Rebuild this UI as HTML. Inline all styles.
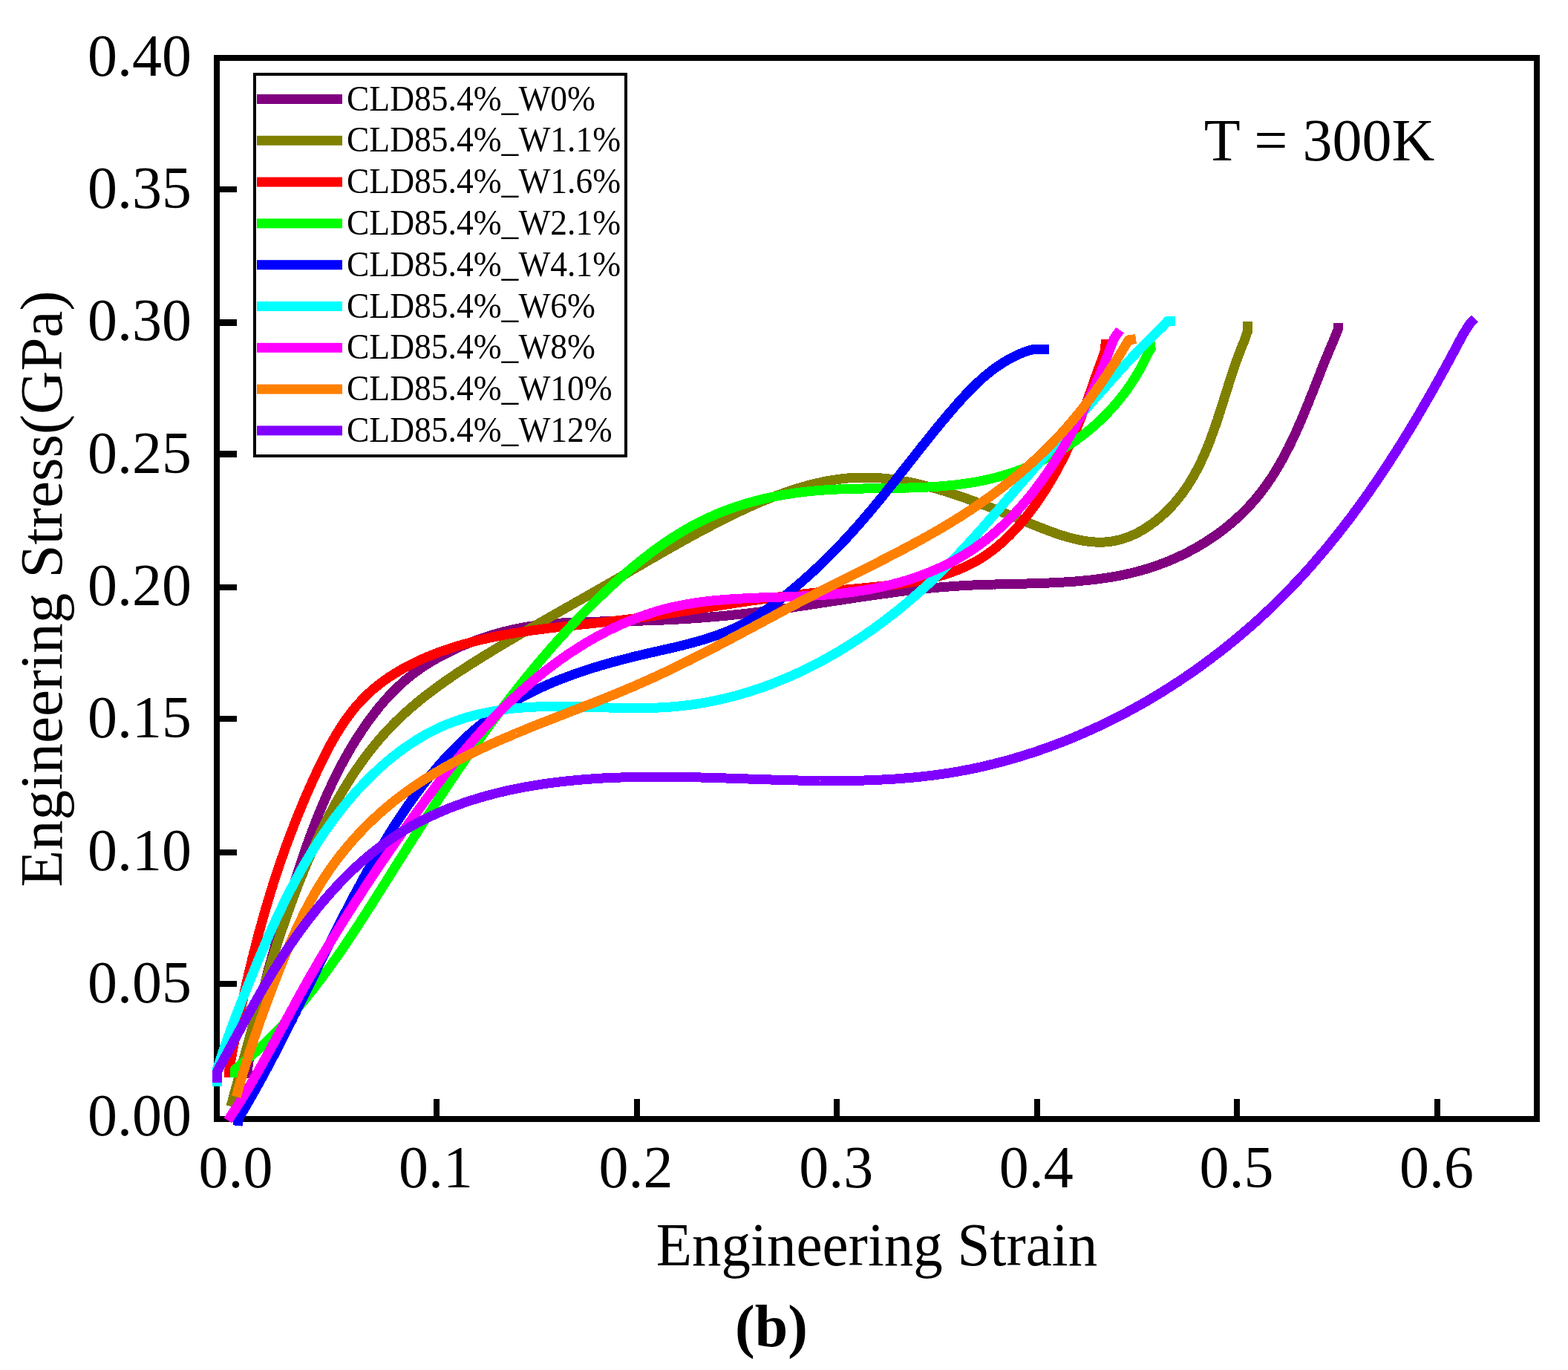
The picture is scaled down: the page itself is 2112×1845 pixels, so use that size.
<!DOCTYPE html>
<html><head><meta charset="utf-8"><style>
html,body{margin:0;padding:0;background:#fff;}
svg{display:block;}
text{font-family:'Liberation Serif','Times New Roman',Times,serif;fill:#000;}
</style></head><body>
<svg width="2112" height="1845" viewBox="0 0 2112 1845">
<rect width="2112" height="1845" fill="#fff"/>
<g font-size="80">
<text x="258" y="1528.5" text-anchor="end">0.00</text>
<text x="258" y="1350.1" text-anchor="end">0.05</text>
<text x="258" y="1171.7" text-anchor="end">0.10</text>
<text x="258" y="993.4" text-anchor="end">0.15</text>
<text x="258" y="815" text-anchor="end">0.20</text>
<text x="258" y="636.6" text-anchor="end">0.25</text>
<text x="258" y="458.2" text-anchor="end">0.30</text>
<text x="258" y="279.8" text-anchor="end">0.35</text>
<text x="258" y="101.5" text-anchor="end">0.40</text>
<text x="317.4" y="1599" text-anchor="middle">0.0</text>
<text x="587" y="1599" text-anchor="middle">0.1</text>
<text x="856.6" y="1599" text-anchor="middle">0.2</text>
<text x="1126.2" y="1599" text-anchor="middle">0.3</text>
<text x="1395.8" y="1599" text-anchor="middle">0.4</text>
<text x="1665.4" y="1599" text-anchor="middle">0.5</text>
<text x="1935" y="1599" text-anchor="middle">0.6</text>
</g>
<rect x="292" y="78" width="1778" height="1429" fill="none" stroke="#000" stroke-width="8"/>
<path d="M296,1325 H319 M296,1148 H319 M296,968 H319 M296,791 H319 M296,255 H319 M588,1503 V1480 M858,1503 V1480 M1127,1503 V1480 M1397,1503 V1480 M1666,1503 V1480 M1936,1503 V1480" stroke="#000" stroke-width="8" fill="none"/>
<path d="M296,611.5 H319 M296,434.5 H319" stroke="#000" stroke-width="9" fill="none"/>
<g fill="none" stroke-width="13" stroke-linecap="butt" stroke-linejoin="round" shape-rendering="crispEdges">
<path d="M332,1452 L332.3,1450 L332.5,1448 L332.8,1446 L333,1444 L333.3,1442 L333.6,1440 L333.9,1438 L334.1,1436 L334.4,1434 L334.7,1432 L335,1430 L335.3,1428 L335.6,1426 L335.9,1424 L336.3,1422 L336.6,1420.1 L336.9,1418.1 L337.2,1416.1 L337.6,1414.1 L337.9,1412.1 L338.2,1410.2 L338.6,1408.2 L338.9,1406.2 L339.3,1404.2 L339.6,1402.3 L340,1400.3 L340.4,1398.3 L340.7,1396.3 L341.1,1394.4 L341.5,1392.4 L341.9,1390.4 L342.2,1388.5 L342.6,1386.5 L343,1384.6 L343.4,1382.6 L343.8,1380.6 L344.2,1378.7 L344.6,1376.7 L345,1374.8 L345.4,1372.8 L345.9,1370.9 L346.3,1368.9 L346.7,1367 L347.1,1365 L347.5,1363.1 L348,1361.1 L348.4,1359.2 L348.9,1357.2 L349.3,1355.3 L349.7,1353.3 L350.2,1351.4 L350.6,1349.5 L351.1,1347.5 L351.6,1345.6 L352,1343.6 L352.5,1341.7 L353,1339.8 L353.4,1337.8 L353.9,1335.9 L354.4,1334 L354.9,1332 L355.3,1330.1 L355.8,1328.1 L356.3,1326.2 L356.8,1324.3 L357.3,1322.4 L357.8,1320.4 L358.3,1318.5 L358.8,1316.6 L359.3,1314.6 L359.8,1312.7 L360.3,1310.8 L360.8,1308.9 L361.3,1306.9 L361.8,1305 L362.4,1303.1 L362.9,1301.2 L363.4,1299.2 L363.9,1297.3 L364.5,1295.4 L365,1293.5 L365.5,1291.5 L366.1,1289.6 L366.6,1287.7 L367.1,1285.8 L367.7,1283.9 L368.2,1281.9 L368.8,1280 L369.3,1278.1 L369.9,1276.2 L370.4,1274.3 L371,1272.3 L371.5,1270.4 L372.1,1268.5 L372.6,1266.6 L373.2,1264.7 L373.8,1262.8 L374.3,1260.8 L374.9,1258.9 L375.5,1257 L376,1255.1 L376.6,1253.2 L377.2,1251.2 L377.7,1249.3 L378.3,1247.4 L378.9,1245.5 L379.5,1243.6 L380,1241.7 L380.6,1239.7 L381.2,1237.8 L381.8,1235.9 L382.4,1234 L383,1232.1 L383.5,1230.2 L384.1,1228.2 L384.7,1226.3 L385.3,1224.4 L385.9,1222.5 L386.5,1220.6 L387.1,1218.7 L387.7,1216.7 L388.3,1214.8 L388.9,1212.9 L389.5,1211 L390.1,1209.1 L390.7,1207.1 L391.3,1205.2 L391.9,1203.3 L392.5,1201.4 L393.1,1199.5 L393.7,1197.6 L394.3,1195.6 L394.9,1193.7 L395.5,1191.8 L396.1,1189.9 L396.7,1188 L397.4,1186 L398,1184.1 L398.6,1182.2 L399.2,1180.3 L399.8,1178.4 L400.5,1176.5 L401.1,1174.5 L401.7,1172.6 L402.4,1170.7 L403,1168.8 L403.6,1166.9 L404.3,1165 L404.9,1163.1 L405.5,1161.2 L406.2,1159.2 L406.8,1157.3 L407.5,1155.4 L408.1,1153.5 L408.8,1151.6 L409.4,1149.7 L410.1,1147.8 L410.8,1145.9 L411.4,1144 L412.1,1142.1 L412.8,1140.2 L413.4,1138.3 L414.1,1136.4 L414.8,1134.5 L415.5,1132.6 L416.2,1130.7 L416.8,1128.8 L417.5,1126.9 L418.2,1125.1 L418.9,1123.2 L419.6,1121.3 L420.3,1119.4 L421,1117.5 L421.8,1115.6 L422.5,1113.8 L423.2,1111.9 L423.9,1110 L424.6,1108.1 L425.4,1106.3 L426.1,1104.4 L426.8,1102.5 L427.6,1100.7 L428.3,1098.8 L429.1,1096.9 L429.8,1095.1 L430.6,1093.2 L431.4,1091.4 L432.1,1089.5 L432.9,1087.6 L433.7,1085.8 L434.4,1084 L435.2,1082.1 L436,1080.3 L436.8,1078.4 L437.6,1076.6 L438.4,1074.8 L439.2,1072.9 L440,1071.1 L440.8,1069.3 L441.7,1067.4 L442.5,1065.6 L443.3,1063.8 L444.1,1062 L445,1060.2 L445.8,1058.4 L446.7,1056.5 L447.5,1054.7 L448.4,1052.9 L449.3,1051.1 L450.1,1049.3 L451,1047.5 L451.9,1045.8 L452.8,1044 L453.7,1042.2 L454.6,1040.4 L455.5,1038.6 L456.4,1036.8 L457.3,1035.1 L458.2,1033.3 L459.1,1031.5 L460.1,1029.8 L461,1028 L461.9,1026.3 L462.9,1024.5 L463.8,1022.8 L464.8,1021 L465.8,1019.3 L466.7,1017.6 L467.7,1015.8 L468.7,1014.1 L469.7,1012.4 L470.7,1010.6 L471.7,1008.9 L472.7,1007.2 L473.7,1005.5 L474.8,1003.8 L475.8,1002.1 L476.8,1000.4 L477.9,998.7 L478.9,997 L480,995.3 L481.1,993.6 L482.1,992 L483.2,990.3 L484.3,988.6 L485.4,987 L486.5,985.3 L487.6,983.6 L488.7,982 L489.8,980.3 L491,978.7 L492.1,977.1 L493.2,975.4 L494.4,973.8 L495.6,972.2 L496.7,970.6 L497.9,968.9 L499.1,967.3 L500.3,965.7 L501.5,964.1 L502.7,962.6 L503.9,961 L505.1,959.4 L506.3,957.8 L507.6,956.3 L508.8,954.7 L510.1,953.2 L511.3,951.6 L512.6,950.1 L513.9,948.6 L515.2,947.1 L516.5,945.5 L517.8,944 L519.1,942.5 L520.4,941.1 L521.8,939.6 L523.1,938.1 L524.5,936.7 L525.8,935.2 L527.2,933.8 L528.6,932.4 L530,930.9 L531.4,929.5 L532.8,928.1 L534.2,926.7 L535.7,925.4 L537.1,924 L538.6,922.6 L540,921.3 L541.5,920 L543,918.6 L544.5,917.3 L546,916 L547.5,914.7 L549,913.5 L550.6,912.2 L552.1,911 L553.7,909.7 L555.2,908.5 L556.8,907.3 L558.4,906.1 L560,904.9 L561.6,903.7 L563.2,902.6 L564.9,901.4 L566.5,900.3 L568.2,899.2 L569.8,898 L571.5,896.9 L573.2,895.9 L574.9,894.8 L576.6,893.7 L578.3,892.7 L580,891.6 L581.7,890.6 L583.4,889.6 L585.2,888.6 L586.9,887.6 L588.6,886.6 L590.4,885.6 L592.2,884.6 L593.9,883.7 L595.7,882.7 L597.5,881.8 L599.3,880.9 L601,880 L602.8,879.1 L604.6,878.2 L606.4,877.3 L608.2,876.4 L610.1,875.5 L611.9,874.7 L613.7,873.8 L615.5,873 L617.3,872.2 L619.2,871.3 L621,870.5 L622.9,869.7 L624.7,868.9 L626.5,868.2 L628.4,867.4 L630.2,866.6 L632.1,865.9 L634,865.1 L635.8,864.4 L637.7,863.7 L639.6,863 L641.4,862.3 L643.3,861.6 L645.2,860.9 L647.1,860.2 L649,859.6 L650.9,858.9 L652.8,858.3 L654.7,857.7 L656.6,857 L658.5,856.4 L660.4,855.8 L662.3,855.2 L664.2,854.7 L666.1,854.1 L668,853.6 L669.9,853 L671.8,852.5 L673.8,851.9 L675.7,851.4 L677.6,850.9 L679.6,850.4 L681.5,850 L683.4,849.5 L685.4,849 L687.3,848.6 L689.2,848.1 L691.2,847.7 L693.1,847.3 L695.1,846.9 L697,846.5 L698.9,846.1 L700.9,845.7 L702.8,845.4 L704.8,845 L706.8,844.7 L708.7,844.3 L710.7,844 L712.6,843.7 L714.6,843.4 L716.5,843.1 L718.5,842.8 L720.5,842.6 L722.4,842.3 L724.4,842 L726.4,841.8 L728.3,841.5 L730.3,841.3 L732.3,841.1 L734.3,840.9 L736.2,840.7 L738.2,840.5 L740.2,840.3 L742.2,840.1 L744.1,839.9 L746.1,839.7 L748.1,839.6 L750.1,839.4 L752.1,839.3 L754.1,839.1 L756,839 L758,838.8 L760,838.7 L762,838.6 L764,838.5 L766,838.4 L768,838.3 L770,838.1 L772,838.1 L774,838 L776,837.9 L778,837.8 L780,837.7 L782,837.6 L784,837.6 L786,837.5 L788,837.4 L790,837.4 L792,837.3 L794,837.3 L796,837.2 L798,837.2 L800,837.1 L802,837.1 L804,837 L806,837 L808,837 L810,836.9 L812,836.9 L814,836.9 L816,836.8 L818,836.8 L820,836.8 L822,836.7 L824,836.7 L826.1,836.7 L828.1,836.7 L830.1,836.6 L832.1,836.6 L834.1,836.6 L836.1,836.5 L838.1,836.5 L840.1,836.5 L842.1,836.5 L844.2,836.4 L846.2,836.4 L848.2,836.4 L850.2,836.3 L852.2,836.3 L854.2,836.3 L856.2,836.2 L858.2,836.2 L860.2,836.1 L862.3,836.1 L864.3,836 L866.3,836 L868.3,835.9 L870.3,835.9 L872.3,835.8 L874.3,835.7 L876.3,835.7 L878.3,835.6 L880.4,835.5 L882.4,835.5 L884.4,835.4 L886.4,835.3 L888.4,835.2 L890.4,835.2 L892.4,835.1 L894.4,835 L896.4,834.9 L898.5,834.8 L900.5,834.7 L902.5,834.6 L904.5,834.5 L906.5,834.4 L908.5,834.3 L910.5,834.2 L912.5,834.1 L914.5,834 L916.5,833.9 L918.5,833.8 L920.5,833.6 L922.6,833.5 L924.6,833.4 L926.6,833.3 L928.6,833.1 L930.6,833 L932.6,832.9 L934.6,832.7 L936.6,832.6 L938.6,832.4 L940.6,832.3 L942.6,832.1 L944.6,832 L946.6,831.8 L948.6,831.7 L950.6,831.5 L952.6,831.4 L954.6,831.2 L956.6,831 L958.6,830.9 L960.6,830.7 L962.6,830.5 L964.6,830.4 L966.6,830.2 L968.6,830 L970.6,829.8 L972.6,829.6 L974.6,829.4 L976.6,829.2 L978.6,829.1 L980.6,828.9 L982.6,828.7 L984.6,828.5 L986.6,828.3 L988.6,828 L990.6,827.8 L992.6,827.6 L994.6,827.4 L996.6,827.2 L998.6,827 L1000.5,826.7 L1002.5,826.5 L1004.5,826.3 L1006.5,826.1 L1008.5,825.8 L1010.5,825.6 L1012.5,825.4 L1014.5,825.1 L1016.5,824.9 L1018.4,824.6 L1020.4,824.4 L1022.4,824.1 L1024.4,823.9 L1026.4,823.6 L1028.4,823.4 L1030.4,823.1 L1032.3,822.8 L1034.3,822.6 L1036.3,822.3 L1038.3,822.1 L1040.3,821.8 L1042.3,821.5 L1044.2,821.2 L1046.2,821 L1048.2,820.7 L1050.2,820.4 L1052.2,820.1 L1054.1,819.9 L1056.1,819.6 L1058.1,819.3 L1060.1,819 L1062.1,818.7 L1064,818.4 L1066,818.2 L1068,817.9 L1070,817.6 L1071.9,817.3 L1073.9,817 L1075.9,816.7 L1077.9,816.4 L1079.8,816.1 L1081.8,815.8 L1083.8,815.5 L1085.8,815.2 L1087.7,814.9 L1089.7,814.6 L1091.7,814.3 L1093.7,814 L1095.7,813.7 L1097.6,813.4 L1099.6,813.1 L1101.6,812.8 L1103.6,812.5 L1105.5,812.2 L1107.5,811.9 L1109.5,811.6 L1111.4,811.3 L1113.4,811 L1115.4,810.7 L1117.4,810.4 L1119.3,810.1 L1121.3,809.8 L1123.3,809.5 L1125.3,809.2 L1127.2,808.9 L1129.2,808.6 L1131.2,808.3 L1133.2,808 L1135.1,807.7 L1137.1,807.4 L1139.1,807.1 L1141.1,806.8 L1143,806.5 L1145,806.2 L1147,805.9 L1149,805.6 L1150.9,805.3 L1152.9,805 L1154.9,804.7 L1156.9,804.4 L1158.8,804.1 L1160.8,803.8 L1162.8,803.6 L1164.8,803.3 L1166.7,803 L1168.7,802.7 L1170.7,802.4 L1172.7,802.1 L1174.7,801.8 L1176.6,801.5 L1178.6,801.3 L1180.6,801 L1182.6,800.7 L1184.6,800.4 L1186.5,800.2 L1188.5,799.9 L1190.5,799.6 L1192.5,799.3 L1194.5,799.1 L1196.4,798.8 L1198.4,798.5 L1200.4,798.3 L1202.4,798 L1204.4,797.8 L1206.3,797.5 L1208.3,797.2 L1210.3,797 L1212.3,796.7 L1214.3,796.5 L1216.3,796.2 L1218.2,796 L1220.2,795.8 L1222.2,795.5 L1224.2,795.3 L1226.2,795 L1228.2,794.8 L1230.2,794.6 L1232.2,794.4 L1234.1,794.1 L1236.1,793.9 L1238.1,793.7 L1240.1,793.5 L1242.1,793.3 L1244.1,793.1 L1246.1,792.8 L1248.1,792.6 L1250.1,792.4 L1252.1,792.2 L1254.1,792 L1256.1,791.9 L1258.1,791.7 L1260.1,791.5 L1262.1,791.3 L1264,791.1 L1266,790.9 L1268,790.8 L1270,790.6 L1272,790.4 L1274,790.3 L1276,790.1 L1278.1,790 L1280.1,789.8 L1282.1,789.7 L1284.1,789.5 L1286.1,789.4 L1288.1,789.2 L1290.1,789.1 L1292.1,789 L1294.1,788.8 L1296.1,788.7 L1298.1,788.6 L1300.1,788.5 L1302.1,788.4 L1304.2,788.3 L1306.2,788.2 L1308.2,788.1 L1310.2,788 L1312.2,787.9 L1314.2,787.8 L1316.2,787.7 L1318.3,787.7 L1320.3,787.6 L1322.3,787.5 L1324.3,787.4 L1326.3,787.4 L1328.4,787.3 L1330.4,787.2 L1332.4,787.2 L1334.4,787.1 L1336.4,787.1 L1338.5,787 L1340.5,787 L1342.5,786.9 L1344.5,786.8 L1346.6,786.8 L1348.6,786.8 L1350.6,786.7 L1352.6,786.7 L1354.6,786.6 L1356.7,786.6 L1358.7,786.5 L1360.7,786.5 L1362.7,786.4 L1364.8,786.4 L1366.8,786.3 L1368.8,786.3 L1370.8,786.3 L1372.9,786.2 L1374.9,786.2 L1376.9,786.1 L1378.9,786.1 L1380.9,786 L1383,786 L1385,785.9 L1387,785.9 L1389,785.8 L1391,785.8 L1393.1,785.7 L1395.1,785.7 L1397.1,785.6 L1399.1,785.5 L1401.1,785.5 L1403.2,785.4 L1405.2,785.3 L1407.2,785.3 L1409.2,785.2 L1411.2,785.1 L1413.2,785 L1415.2,784.9 L1417.3,784.9 L1419.3,784.8 L1421.3,784.7 L1423.3,784.6 L1425.3,784.5 L1427.3,784.4 L1429.3,784.3 L1431.3,784.1 L1433.3,784 L1435.3,783.9 L1437.3,783.8 L1439.3,783.6 L1441.3,783.5 L1443.3,783.4 L1445.3,783.2 L1447.3,783.1 L1449.3,782.9 L1451.3,782.7 L1453.3,782.6 L1455.3,782.4 L1457.3,782.2 L1459.3,782 L1461.3,781.8 L1463.3,781.7 L1465.2,781.4 L1467.2,781.2 L1469.2,781 L1471.2,780.8 L1473.2,780.6 L1475.1,780.3 L1477.1,780.1 L1479.1,779.8 L1481.1,779.6 L1483,779.3 L1485,779 L1487,778.7 L1488.9,778.4 L1490.9,778.1 L1492.9,777.8 L1494.8,777.5 L1496.8,777.2 L1498.7,776.9 L1500.7,776.5 L1502.6,776.2 L1504.6,775.8 L1506.5,775.4 L1508.5,775.1 L1510.4,774.7 L1512.4,774.3 L1514.3,773.9 L1516.2,773.5 L1518.2,773 L1520.1,772.6 L1522,772.1 L1524,771.7 L1525.9,771.2 L1527.8,770.7 L1529.7,770.2 L1531.7,769.7 L1533.6,769.2 L1535.5,768.7 L1537.4,768.2 L1539.3,767.6 L1541.2,767.1 L1543.1,766.5 L1545,765.9 L1546.9,765.3 L1548.8,764.7 L1550.7,764.1 L1552.6,763.5 L1554.5,762.9 L1556.4,762.2 L1558.2,761.6 L1560.1,760.9 L1562,760.2 L1563.9,759.5 L1565.7,758.8 L1567.6,758.1 L1569.4,757.4 L1571.3,756.7 L1573.1,755.9 L1575,755.1 L1576.8,754.4 L1578.7,753.6 L1580.5,752.8 L1582.3,752 L1584.1,751.2 L1586,750.4 L1587.8,749.5 L1589.6,748.7 L1591.4,747.8 L1593.2,747 L1595,746.1 L1596.8,745.2 L1598.5,744.3 L1600.3,743.4 L1602.1,742.5 L1603.8,741.5 L1605.6,740.6 L1607.4,739.6 L1609.1,738.7 L1610.8,737.7 L1612.6,736.7 L1614.3,735.7 L1616,734.7 L1617.7,733.7 L1619.4,732.6 L1621.1,731.6 L1622.8,730.6 L1624.5,729.5 L1626.2,728.4 L1627.9,727.3 L1629.6,726.2 L1631.2,725.1 L1632.9,724 L1634.5,722.9 L1636.1,721.8 L1637.8,720.6 L1639.4,719.5 L1641,718.3 L1642.6,717.1 L1644.2,715.9 L1645.8,714.7 L1647.4,713.5 L1649,712.3 L1650.5,711.1 L1652.1,709.8 L1653.6,708.6 L1655.2,707.3 L1656.7,706.1 L1658.2,704.8 L1659.8,703.5 L1661.3,702.2 L1662.8,700.9 L1664.3,699.6 L1665.7,698.2 L1667.2,696.9 L1668.7,695.5 L1670.1,694.2 L1671.6,692.8 L1673,691.4 L1674.4,690 L1675.8,688.6 L1677.2,687.2 L1678.6,685.8 L1680,684.4 L1681.4,682.9 L1682.7,681.5 L1684.1,680 L1685.4,678.6 L1686.7,677.1 L1688.1,675.6 L1689.4,674.1 L1690.7,672.6 L1692,671 L1693.2,669.5 L1694.5,668 L1695.7,666.4 L1697,664.9 L1698.2,663.3 L1699.4,661.7 L1700.6,660.1 L1701.8,658.5 L1703,656.9 L1704.2,655.3 L1705.4,653.7 L1706.5,652.1 L1707.7,650.4 L1708.8,648.8 L1709.9,647.1 L1711.1,645.5 L1712.2,643.8 L1713.3,642.1 L1714.4,640.4 L1715.4,638.7 L1716.5,637 L1717.6,635.3 L1718.6,633.6 L1719.7,631.9 L1720.7,630.1 L1721.7,628.4 L1722.7,626.7 L1723.7,624.9 L1724.7,623.1 L1725.7,621.4 L1726.7,619.6 L1727.7,617.8 L1728.7,616.1 L1729.6,614.3 L1730.6,612.5 L1731.5,610.7 L1732.5,608.9 L1733.4,607.1 L1734.3,605.3 L1735.3,603.5 L1736.2,601.6 L1737.1,599.8 L1738,598 L1738.9,596.2 L1739.8,594.3 L1740.6,592.5 L1741.5,590.6 L1742.4,588.8 L1743.2,586.9 L1744.1,585.1 L1745,583.2 L1745.8,581.4 L1746.6,579.5 L1747.5,577.6 L1748.3,575.8 L1749.1,573.9 L1750,572 L1750.8,570.2 L1751.6,568.3 L1752.4,566.4 L1753.2,564.5 L1754,562.6 L1754.8,560.7 L1755.6,558.9 L1756.4,557 L1757.2,555.1 L1757.9,553.2 L1758.7,551.3 L1759.5,549.4 L1760.3,547.5 L1761,545.6 L1761.8,543.8 L1762.6,541.9 L1763.3,540 L1764.1,538.1 L1764.8,536.2 L1765.6,534.3 L1766.3,532.4 L1767.1,530.5 L1767.8,528.6 L1768.6,526.8 L1769.3,524.9 L1770.1,523 L1770.8,521.1 L1771.6,519.2 L1772.3,517.3 L1773,515.5 L1773.8,513.6 L1774.5,511.7 L1775.2,509.9 L1776,508 L1776.7,506.1 L1777.4,504.3 L1778.2,502.4 L1778.9,500.5 L1779.6,498.7 L1780.4,496.8 L1781.1,495 L1781.8,493.2 L1782.6,491.3 L1783.3,489.5 L1784,487.6 L1784.8,485.8 L1785.5,484 L1786.2,482.2 L1787,480.4 L1787.7,478.6 L1788.5,476.7 L1789.2,475 L1790,473.2 L1790.7,471.4 L1791.5,469.6 L1792.2,467.8 L1793,466 L1793.7,464.3 L1794.5,462.5 L1795.2,460.8 L1796,459 L1802.5,443 L1802.5,435" stroke="#800080"/>
<path d="M311,1490 L311.5,1488.1 L312.1,1486.1 L312.6,1484.2 L313.1,1482.2 L313.6,1480.3 L314.2,1478.4 L314.7,1476.4 L315.2,1474.5 L315.7,1472.5 L316.3,1470.6 L316.8,1468.7 L317.3,1466.7 L317.8,1464.8 L318.4,1462.8 L318.9,1460.9 L319.4,1459 L319.9,1457 L320.4,1455.1 L321,1453.2 L321.5,1451.2 L322,1449.3 L322.5,1447.4 L323.1,1445.4 L323.6,1443.5 L324.1,1441.5 L324.6,1439.6 L325.1,1437.7 L325.7,1435.7 L326.2,1433.8 L326.7,1431.9 L327.2,1429.9 L327.8,1428 L328.3,1426.1 L328.8,1424.1 L329.3,1422.2 L329.9,1420.3 L330.4,1418.4 L330.9,1416.4 L331.4,1414.5 L331.9,1412.6 L332.5,1410.6 L333,1408.7 L333.5,1406.8 L334.1,1404.8 L334.6,1402.9 L335.1,1401 L335.6,1399.1 L336.2,1397.1 L336.7,1395.2 L337.2,1393.3 L337.8,1391.4 L338.3,1389.4 L338.8,1387.5 L339.4,1385.6 L339.9,1383.7 L340.4,1381.7 L341,1379.8 L341.5,1377.9 L342,1376 L342.6,1374 L343.1,1372.1 L343.7,1370.2 L344.2,1368.3 L344.7,1366.4 L345.3,1364.4 L345.8,1362.5 L346.4,1360.6 L346.9,1358.7 L347.5,1356.8 L348,1354.8 L348.5,1352.9 L349.1,1351 L349.7,1349.1 L350.2,1347.2 L350.8,1345.2 L351.3,1343.3 L351.9,1341.4 L352.4,1339.5 L353,1337.6 L353.5,1335.7 L354.1,1333.8 L354.7,1331.8 L355.2,1329.9 L355.8,1328 L356.4,1326.1 L356.9,1324.2 L357.5,1322.3 L358.1,1320.4 L358.6,1318.5 L359.2,1316.6 L359.8,1314.6 L360.4,1312.7 L360.9,1310.8 L361.5,1308.9 L362.1,1307 L362.7,1305.1 L363.3,1303.2 L363.9,1301.3 L364.4,1299.4 L365,1297.5 L365.6,1295.6 L366.2,1293.7 L366.8,1291.8 L367.4,1289.9 L368,1288 L368.6,1286.1 L369.2,1284.2 L369.8,1282.3 L370.4,1280.4 L371,1278.5 L371.7,1276.6 L372.3,1274.7 L372.9,1272.8 L373.5,1270.9 L374.1,1269 L374.7,1267.1 L375.4,1265.2 L376,1263.3 L376.6,1261.4 L377.3,1259.5 L377.9,1257.6 L378.5,1255.7 L379.2,1253.8 L379.8,1251.9 L380.4,1250 L381.1,1248.2 L381.7,1246.3 L382.4,1244.4 L383,1242.5 L383.7,1240.6 L384.3,1238.7 L385,1236.8 L385.7,1234.9 L386.3,1233 L387,1231.2 L387.7,1229.3 L388.3,1227.4 L389,1225.5 L389.7,1223.6 L390.4,1221.7 L391.1,1219.9 L391.7,1218 L392.4,1216.1 L393.1,1214.2 L393.8,1212.3 L394.5,1210.5 L395.2,1208.6 L395.9,1206.7 L396.6,1204.8 L397.3,1203 L398,1201.1 L398.8,1199.2 L399.5,1197.3 L400.2,1195.5 L400.9,1193.6 L401.6,1191.7 L402.4,1189.8 L403.1,1188 L403.8,1186.1 L404.6,1184.2 L405.3,1182.4 L406.1,1180.5 L406.8,1178.6 L407.6,1176.8 L408.3,1174.9 L409.1,1173 L409.8,1171.2 L410.6,1169.3 L411.4,1167.4 L412.1,1165.6 L412.9,1163.7 L413.7,1161.9 L414.5,1160 L415.3,1158.2 L416.1,1156.3 L416.9,1154.4 L417.7,1152.6 L418.5,1150.7 L419.3,1148.9 L420.1,1147 L420.9,1145.2 L421.7,1143.3 L422.5,1141.5 L423.3,1139.7 L424.2,1137.8 L425,1136 L425.8,1134.1 L426.7,1132.3 L427.5,1130.5 L428.4,1128.7 L429.2,1126.8 L430.1,1125 L430.9,1123.2 L431.8,1121.4 L432.7,1119.5 L433.6,1117.7 L434.4,1115.9 L435.3,1114.1 L436.2,1112.3 L437.1,1110.5 L438,1108.7 L438.9,1106.9 L439.8,1105.1 L440.7,1103.3 L441.6,1101.5 L442.6,1099.7 L443.5,1097.9 L444.4,1096.1 L445.3,1094.3 L446.3,1092.6 L447.2,1090.8 L448.2,1089 L449.1,1087.3 L450.1,1085.5 L451.1,1083.7 L452,1082 L453,1080.2 L454,1078.5 L455,1076.7 L456,1075 L457,1073.2 L458,1071.5 L459,1069.8 L460,1068 L461,1066.3 L462,1064.6 L463,1062.9 L464.1,1061.2 L465.1,1059.5 L466.2,1057.8 L467.2,1056.1 L468.3,1054.4 L469.3,1052.7 L470.4,1051 L471.5,1049.3 L472.5,1047.6 L473.6,1045.9 L474.7,1044.3 L475.8,1042.6 L476.9,1040.9 L478,1039.3 L479.1,1037.6 L480.3,1036 L481.4,1034.4 L482.5,1032.7 L483.7,1031.1 L484.8,1029.5 L486,1027.8 L487.1,1026.2 L488.3,1024.6 L489.4,1023 L490.6,1021.4 L491.8,1019.8 L493,1018.2 L494.2,1016.6 L495.4,1015.1 L496.6,1013.5 L497.8,1011.9 L499,1010.4 L500.3,1008.8 L501.5,1007.3 L502.7,1005.7 L504,1004.2 L505.2,1002.7 L506.5,1001.1 L507.8,999.6 L509.1,998.1 L510.3,996.6 L511.6,995.1 L512.9,993.6 L514.2,992.1 L515.5,990.6 L516.9,989.1 L518.2,987.7 L519.5,986.2 L520.8,984.8 L522.2,983.3 L523.5,981.9 L524.9,980.4 L526.3,979 L527.7,977.6 L529,976.2 L530.4,974.8 L531.8,973.4 L533.2,972 L534.6,970.6 L536.1,969.2 L537.5,967.8 L538.9,966.4 L540.4,965.1 L541.8,963.7 L543.3,962.4 L544.7,961 L546.2,959.7 L547.7,958.4 L549.2,957.1 L550.6,955.7 L552.1,954.4 L553.6,953.1 L555.1,951.8 L556.7,950.5 L558.2,949.2 L559.7,948 L561.2,946.7 L562.8,945.4 L564.3,944.2 L565.9,942.9 L567.4,941.6 L569,940.4 L570.5,939.1 L572.1,937.9 L573.7,936.7 L575.2,935.5 L576.8,934.2 L578.4,933 L580,931.8 L581.6,930.6 L583.2,929.4 L584.8,928.2 L586.4,927 L588.1,925.8 L589.7,924.6 L591.3,923.4 L592.9,922.3 L594.6,921.1 L596.2,919.9 L597.8,918.8 L599.5,917.6 L601.1,916.5 L602.8,915.3 L604.4,914.2 L606.1,913 L607.8,911.9 L609.4,910.7 L611.1,909.6 L612.8,908.5 L614.4,907.4 L616.1,906.2 L617.8,905.1 L619.5,904 L621.2,902.9 L622.9,901.8 L624.6,900.7 L626.3,899.6 L628,898.5 L629.7,897.4 L631.4,896.3 L633.1,895.2 L634.8,894.1 L636.5,893 L638.2,892 L639.9,890.9 L641.6,889.8 L643.3,888.7 L645,887.7 L646.8,886.6 L648.5,885.5 L650.2,884.5 L651.9,883.4 L653.7,882.3 L655.4,881.3 L657.1,880.2 L658.8,879.2 L660.6,878.1 L662.3,877.1 L664,876 L665.8,875 L667.5,873.9 L669.2,872.9 L670.9,871.8 L672.7,870.8 L674.4,869.7 L676.1,868.7 L677.9,867.7 L679.6,866.6 L681.4,865.6 L683.1,864.6 L684.8,863.5 L686.6,862.5 L688.3,861.5 L690,860.4 L691.8,859.4 L693.5,858.4 L695.3,857.4 L697,856.4 L698.7,855.3 L700.5,854.3 L702.2,853.3 L704,852.3 L705.7,851.3 L707.5,850.3 L709.2,849.2 L710.9,848.2 L712.7,847.2 L714.4,846.2 L716.2,845.2 L717.9,844.2 L719.7,843.2 L721.4,842.2 L723.1,841.2 L724.9,840.2 L726.6,839.2 L728.4,838.2 L730.1,837.2 L731.9,836.2 L733.6,835.2 L735.4,834.2 L737.1,833.2 L738.9,832.2 L740.6,831.2 L742.3,830.2 L744.1,829.2 L745.8,828.2 L747.6,827.2 L749.3,826.2 L751.1,825.2 L752.8,824.2 L754.5,823.2 L756.3,822.2 L758,821.2 L759.8,820.2 L761.5,819.2 L763.3,818.3 L765,817.3 L766.7,816.3 L768.5,815.3 L770.2,814.3 L772,813.3 L773.7,812.3 L775.4,811.3 L777.2,810.3 L778.9,809.4 L780.7,808.4 L782.4,807.4 L784.1,806.4 L785.9,805.4 L787.6,804.4 L789.3,803.4 L791.1,802.5 L792.8,801.5 L794.5,800.5 L796.3,799.5 L798,798.5 L799.7,797.5 L801.5,796.5 L803.2,795.5 L804.9,794.6 L806.7,793.6 L808.4,792.6 L810.1,791.6 L811.8,790.6 L813.6,789.6 L815.3,788.6 L817,787.6 L818.7,786.7 L820.5,785.7 L822.2,784.7 L823.9,783.7 L825.6,782.7 L827.3,781.7 L829,780.7 L830.8,779.7 L832.5,778.7 L834.2,777.7 L835.9,776.7 L837.6,775.7 L839.3,774.8 L841,773.8 L842.7,772.8 L844.5,771.8 L846.2,770.8 L847.9,769.8 L849.6,768.8 L851.3,767.8 L853,766.8 L854.7,765.8 L856.4,764.8 L858.1,763.8 L859.8,762.8 L861.5,761.8 L863.3,760.9 L865,759.9 L866.7,758.9 L868.4,757.9 L870.1,756.9 L871.8,755.9 L873.5,754.9 L875.2,753.9 L876.9,752.9 L878.6,751.9 L880.3,750.9 L882.1,750 L883.8,749 L885.5,748 L887.2,747 L888.9,746 L890.6,745 L892.3,744 L894.1,743.1 L895.8,742.1 L897.5,741.1 L899.2,740.1 L900.9,739.1 L902.7,738.2 L904.4,737.2 L906.1,736.2 L907.8,735.2 L909.6,734.3 L911.3,733.3 L913,732.3 L914.8,731.3 L916.5,730.4 L918.2,729.4 L920,728.4 L921.7,727.5 L923.5,726.5 L925.2,725.5 L927,724.6 L928.7,723.6 L930.4,722.7 L932.2,721.7 L934,720.7 L935.7,719.8 L937.5,718.8 L939.2,717.9 L941,716.9 L942.8,716 L944.5,715 L946.3,714.1 L948.1,713.1 L949.8,712.2 L951.6,711.3 L953.4,710.3 L955.2,709.4 L957,708.5 L958.7,707.5 L960.5,706.6 L962.3,705.7 L964.1,704.7 L965.9,703.8 L967.7,702.9 L969.5,702 L971.3,701.1 L973.2,700.1 L975,699.2 L976.8,698.3 L978.6,697.4 L980.4,696.5 L982.3,695.6 L984.1,694.7 L985.9,693.8 L987.8,692.9 L989.6,692 L991.4,691.1 L993.3,690.2 L995.1,689.4 L997,688.5 L998.8,687.6 L1000.7,686.7 L1002.5,685.9 L1004.4,685 L1006.3,684.2 L1008.1,683.3 L1010,682.5 L1011.9,681.6 L1013.8,680.8 L1015.6,680 L1017.5,679.1 L1019.4,678.3 L1021.3,677.5 L1023.2,676.7 L1025,675.9 L1026.9,675.1 L1028.8,674.3 L1030.7,673.5 L1032.6,672.8 L1034.5,672 L1036.4,671.2 L1038.3,670.5 L1040.2,669.7 L1042.1,669 L1044,668.3 L1045.9,667.5 L1047.8,666.8 L1049.8,666.1 L1051.7,665.4 L1053.6,664.7 L1055.5,664 L1057.4,663.3 L1059.3,662.7 L1061.3,662 L1063.2,661.4 L1065.1,660.7 L1067,660.1 L1069,659.4 L1070.9,658.8 L1072.8,658.2 L1074.7,657.6 L1076.7,657 L1078.6,656.5 L1080.5,655.9 L1082.5,655.3 L1084.4,654.8 L1086.3,654.3 L1088.3,653.7 L1090.2,653.2 L1092.2,652.7 L1094.1,652.2 L1096,651.7 L1098,651.3 L1099.9,650.8 L1101.9,650.4 L1103.8,649.9 L1105.8,649.5 L1107.7,649.1 L1109.6,648.7 L1111.6,648.3 L1113.5,647.9 L1115.5,647.6 L1117.4,647.2 L1119.4,646.9 L1121.3,646.6 L1123.3,646.3 L1125.2,646 L1127.2,645.7 L1129.1,645.4 L1131.1,645.2 L1133,644.9 L1134.9,644.7 L1136.9,644.5 L1138.8,644.3 L1140.8,644.1 L1142.7,643.9 L1144.7,643.8 L1146.6,643.6 L1148.6,643.5 L1150.5,643.4 L1152.5,643.3 L1154.4,643.2 L1156.4,643.1 L1158.3,643.1 L1160.2,643 L1162.2,643 L1164.1,643 L1166.1,643 L1168,643 L1170,643.1 L1171.9,643.1 L1173.8,643.2 L1175.8,643.3 L1177.7,643.4 L1179.7,643.5 L1181.6,643.6 L1183.5,643.7 L1185.5,643.8 L1187.4,644 L1189.4,644.2 L1191.3,644.3 L1193.2,644.5 L1195.2,644.7 L1197.1,645 L1199.1,645.2 L1201,645.4 L1202.9,645.7 L1204.9,646 L1206.8,646.2 L1208.7,646.5 L1210.7,646.8 L1212.6,647.1 L1214.5,647.4 L1216.5,647.8 L1218.4,648.1 L1220.3,648.5 L1222.3,648.8 L1224.2,649.2 L1226.1,649.6 L1228.1,650 L1230,650.4 L1231.9,650.8 L1233.9,651.2 L1235.8,651.7 L1237.7,652.1 L1239.7,652.6 L1241.6,653 L1243.5,653.5 L1245.5,654 L1247.4,654.5 L1249.3,655 L1251.2,655.5 L1253.2,656 L1255.1,656.5 L1257,657 L1259,657.6 L1260.9,658.1 L1262.8,658.7 L1264.7,659.2 L1266.7,659.8 L1268.6,660.4 L1270.5,661 L1272.4,661.6 L1274.4,662.2 L1276.3,662.8 L1278.2,663.4 L1280.1,664 L1282.1,664.6 L1284,665.2 L1285.9,665.9 L1287.8,666.5 L1289.8,667.2 L1291.7,667.8 L1293.6,668.5 L1295.5,669.2 L1297.5,669.8 L1299.4,670.5 L1301.3,671.2 L1303.2,671.9 L1305.1,672.6 L1307.1,673.3 L1309,674 L1310.9,674.7 L1312.8,675.4 L1314.7,676.1 L1316.7,676.8 L1318.6,677.5 L1320.5,678.2 L1322.4,679 L1324.3,679.7 L1326.3,680.4 L1328.2,681.2 L1330.1,681.9 L1332,682.7 L1333.9,683.4 L1335.9,684.2 L1337.8,684.9 L1339.7,685.7 L1341.6,686.4 L1343.5,687.2 L1345.4,688 L1347.4,688.7 L1349.3,689.5 L1351.2,690.3 L1353.1,691 L1355,691.8 L1356.9,692.6 L1358.9,693.3 L1360.8,694.1 L1362.7,694.9 L1364.6,695.7 L1366.5,696.4 L1368.4,697.2 L1370.3,698 L1372.3,698.8 L1374.2,699.5 L1376.1,700.3 L1378,701.1 L1379.9,701.9 L1381.8,702.7 L1383.7,703.4 L1385.6,704.2 L1387.6,705 L1389.5,705.8 L1391.4,706.5 L1393.3,707.3 L1395.2,708.1 L1397.1,708.8 L1399,709.6 L1400.9,710.3 L1402.9,711.1 L1404.8,711.8 L1406.7,712.6 L1408.6,713.3 L1410.5,714 L1412.4,714.7 L1414.3,715.4 L1416.2,716.1 L1418.1,716.8 L1420,717.5 L1421.9,718.2 L1423.8,718.8 L1425.7,719.5 L1427.6,720.1 L1429.5,720.7 L1431.4,721.3 L1433.3,721.9 L1435.2,722.5 L1437.1,723 L1439,723.6 L1440.9,724.1 L1442.8,724.6 L1444.7,725.1 L1446.6,725.6 L1448.5,726 L1450.4,726.4 L1452.3,726.9 L1454.2,727.2 L1456.1,727.6 L1457.9,728 L1459.8,728.3 L1461.7,728.6 L1463.6,728.9 L1465.5,729.1 L1467.4,729.3 L1469.2,729.5 L1471.1,729.7 L1473,729.9 L1474.9,730 L1476.7,730.1 L1478.6,730.1 L1480.5,730.2 L1482.3,730.2 L1484.2,730.1 L1486.1,730.1 L1487.9,730 L1489.8,729.9 L1491.7,729.7 L1493.5,729.6 L1495.4,729.3 L1497.2,729.1 L1499.1,728.8 L1500.9,728.5 L1502.8,728.1 L1504.6,727.7 L1506.5,727.3 L1508.3,726.8 L1510.1,726.3 L1512,725.8 L1513.8,725.2 L1515.6,724.6 L1517.5,723.9 L1519.3,723.2 L1521.1,722.5 L1522.9,721.8 L1524.7,721 L1526.5,720.2 L1528.3,719.4 L1530.1,718.5 L1531.9,717.6 L1533.6,716.7 L1535.4,715.7 L1537.1,714.7 L1538.9,713.7 L1540.6,712.7 L1542.3,711.6 L1544,710.5 L1545.7,709.4 L1547.4,708.3 L1549.1,707.1 L1550.8,705.9 L1552.4,704.7 L1554.1,703.5 L1555.7,702.3 L1557.3,701 L1558.9,699.7 L1560.5,698.4 L1562.1,697.1 L1563.7,695.7 L1565.2,694.4 L1566.7,693 L1568.3,691.6 L1569.8,690.2 L1571.2,688.8 L1572.7,687.4 L1574.1,685.9 L1575.6,684.5 L1577,683 L1578.4,681.5 L1579.7,680 L1581.1,678.5 L1582.4,677 L1583.7,675.4 L1585,673.9 L1586.3,672.3 L1587.6,670.8 L1588.8,669.2 L1590.1,667.6 L1591.3,666 L1592.5,664.4 L1593.7,662.8 L1594.8,661.2 L1596,659.5 L1597.1,657.9 L1598.3,656.2 L1599.4,654.6 L1600.5,652.9 L1601.5,651.2 L1602.6,649.5 L1603.6,647.8 L1604.7,646.1 L1605.7,644.4 L1606.7,642.7 L1607.7,640.9 L1608.7,639.2 L1609.7,637.5 L1610.6,635.7 L1611.6,633.9 L1612.5,632.2 L1613.4,630.4 L1614.3,628.6 L1615.2,626.8 L1616.1,625 L1617,623.2 L1617.9,621.4 L1618.7,619.6 L1619.6,617.8 L1620.4,615.9 L1621.2,614.1 L1622,612.2 L1622.8,610.4 L1623.6,608.6 L1624.4,606.7 L1625.2,604.8 L1626,603 L1626.7,601.1 L1627.5,599.2 L1628.2,597.3 L1629,595.5 L1629.7,593.6 L1630.4,591.7 L1631.1,589.8 L1631.8,587.9 L1632.5,586 L1633.2,584.1 L1633.9,582.2 L1634.6,580.3 L1635.3,578.3 L1636,576.4 L1636.6,574.5 L1637.3,572.6 L1638,570.7 L1638.6,568.7 L1639.3,566.8 L1639.9,564.9 L1640.5,563 L1641.2,561 L1641.8,559.1 L1642.4,557.2 L1643.1,555.2 L1643.7,553.3 L1644.3,551.3 L1644.9,549.4 L1645.5,547.5 L1646.2,545.5 L1646.8,543.6 L1647.4,541.7 L1648,539.7 L1648.6,537.8 L1649.2,535.9 L1649.8,533.9 L1650.4,532 L1651,530.1 L1651.6,528.1 L1652.2,526.2 L1652.8,524.3 L1653.5,522.3 L1654.1,520.4 L1654.7,518.5 L1655.3,516.6 L1655.9,514.7 L1656.5,512.7 L1657.1,510.8 L1657.7,508.9 L1658.4,507 L1659,505.1 L1659.6,503.2 L1660.2,501.3 L1660.9,499.4 L1661.5,497.5 L1662.1,495.6 L1662.8,493.8 L1663.4,491.9 L1664.1,490 L1664.7,488.1 L1665.4,486.3 L1666.1,484.4 L1666.7,482.6 L1667.4,480.7 L1668.1,478.9 L1668.8,477 L1669.5,475.2 L1670.2,473.4 L1670.9,471.6 L1671.6,469.7 L1672.3,467.9 L1673,466.1 L1673.8,464.3 L1674.5,462.6 L1675.2,460.8 L1676,459 L1680.5,446 L1680.5,433" stroke="#808000"/>
<path d="M308.5,1451 L308.5,1442 L308.9,1440 L309.2,1438 L309.6,1436.1 L309.9,1434.1 L310.3,1432.1 L310.6,1430.1 L311,1428.1 L311.3,1426.2 L311.7,1424.2 L312.1,1422.2 L312.4,1420.2 L312.8,1418.3 L313.1,1416.3 L313.5,1414.3 L313.9,1412.3 L314.2,1410.4 L314.6,1408.4 L315,1406.4 L315.4,1404.5 L315.7,1402.5 L316.1,1400.5 L316.5,1398.5 L316.9,1396.6 L317.2,1394.6 L317.6,1392.6 L318,1390.7 L318.4,1388.7 L318.8,1386.7 L319.2,1384.8 L319.6,1382.8 L320,1380.9 L320.3,1378.9 L320.7,1376.9 L321.1,1375 L321.5,1373 L321.9,1371 L322.3,1369.1 L322.7,1367.1 L323.1,1365.2 L323.5,1363.2 L324,1361.2 L324.4,1359.3 L324.8,1357.3 L325.2,1355.4 L325.6,1353.4 L326,1351.5 L326.4,1349.5 L326.8,1347.6 L327.3,1345.6 L327.7,1343.6 L328.1,1341.7 L328.5,1339.7 L329,1337.8 L329.4,1335.8 L329.8,1333.9 L330.3,1331.9 L330.7,1330 L331.1,1328.1 L331.6,1326.1 L332,1324.2 L332.5,1322.2 L332.9,1320.3 L333.4,1318.3 L333.8,1316.4 L334.3,1314.4 L334.7,1312.5 L335.2,1310.5 L335.6,1308.6 L336.1,1306.7 L336.5,1304.7 L337,1302.8 L337.5,1300.8 L337.9,1298.9 L338.4,1297 L338.9,1295 L339.3,1293.1 L339.8,1291.2 L340.3,1289.2 L340.8,1287.3 L341.3,1285.4 L341.7,1283.4 L342.2,1281.5 L342.7,1279.6 L343.2,1277.6 L343.7,1275.7 L344.2,1273.8 L344.7,1271.8 L345.2,1269.9 L345.7,1268 L346.2,1266.1 L346.7,1264.1 L347.2,1262.2 L347.7,1260.3 L348.2,1258.4 L348.7,1256.4 L349.3,1254.5 L349.8,1252.6 L350.3,1250.7 L350.8,1248.7 L351.4,1246.8 L351.9,1244.9 L352.4,1243 L353,1241.1 L353.5,1239.1 L354,1237.2 L354.6,1235.3 L355.1,1233.4 L355.7,1231.5 L356.2,1229.6 L356.8,1227.6 L357.3,1225.7 L357.9,1223.8 L358.4,1221.9 L359,1220 L359.6,1218.1 L360.1,1216.2 L360.7,1214.3 L361.3,1212.4 L361.8,1210.4 L362.4,1208.5 L363,1206.6 L363.6,1204.7 L364.2,1202.8 L364.8,1200.9 L365.3,1199 L365.9,1197.1 L366.5,1195.2 L367.1,1193.3 L367.7,1191.4 L368.3,1189.5 L368.9,1187.6 L369.6,1185.7 L370.2,1183.8 L370.8,1181.9 L371.4,1180 L372,1178.1 L372.6,1176.2 L373.3,1174.3 L373.9,1172.4 L374.5,1170.5 L375.2,1168.6 L375.8,1166.7 L376.4,1164.9 L377.1,1163 L377.7,1161.1 L378.4,1159.2 L379,1157.3 L379.7,1155.4 L380.4,1153.5 L381,1151.6 L381.7,1149.7 L382.3,1147.9 L383,1146 L383.7,1144.1 L384.4,1142.2 L385,1140.3 L385.7,1138.4 L386.4,1136.6 L387.1,1134.7 L387.8,1132.8 L388.5,1130.9 L389.2,1129 L389.9,1127.2 L390.6,1125.3 L391.3,1123.4 L392,1121.5 L392.7,1119.7 L393.4,1117.8 L394.2,1115.9 L394.9,1114 L395.6,1112.2 L396.3,1110.3 L397.1,1108.4 L397.8,1106.6 L398.6,1104.7 L399.3,1102.8 L400,1101 L400.8,1099.1 L401.5,1097.2 L402.3,1095.4 L403.1,1093.5 L403.8,1091.6 L404.6,1089.8 L405.4,1087.9 L406.1,1086 L406.9,1084.2 L407.7,1082.3 L408.5,1080.5 L409.3,1078.6 L410,1076.7 L410.8,1074.9 L411.6,1073 L412.4,1071.2 L413.2,1069.3 L414.1,1067.5 L414.9,1065.6 L415.7,1063.8 L416.5,1061.9 L417.3,1060.1 L418.1,1058.2 L419,1056.4 L419.8,1054.5 L420.6,1052.7 L421.5,1050.8 L422.3,1049 L423.2,1047.1 L424,1045.3 L424.9,1043.4 L425.7,1041.6 L426.6,1039.7 L427.5,1037.9 L428.3,1036.1 L429.2,1034.2 L430.1,1032.4 L431,1030.5 L431.9,1028.7 L432.7,1026.9 L433.6,1025 L434.5,1023.2 L435.4,1021.4 L436.4,1019.6 L437.3,1017.7 L438.2,1015.9 L439.1,1014.1 L440.1,1012.3 L441,1010.5 L442,1008.7 L442.9,1006.9 L443.9,1005.1 L444.8,1003.3 L445.8,1001.5 L446.8,999.8 L447.8,998 L448.8,996.2 L449.8,994.5 L450.8,992.7 L451.8,991 L452.8,989.3 L453.9,987.5 L454.9,985.8 L456,984.1 L457,982.4 L458.1,980.7 L459.2,979 L460.3,977.3 L461.4,975.6 L462.5,974 L463.6,972.3 L464.8,970.7 L465.9,969 L467.1,967.4 L468.2,965.8 L469.4,964.2 L470.6,962.6 L471.8,961 L473,959.4 L474.2,957.9 L475.5,956.3 L476.7,954.8 L478,953.3 L479.2,951.7 L480.5,950.2 L481.8,948.8 L483.1,947.3 L484.4,945.8 L485.8,944.4 L487.1,942.9 L488.5,941.5 L489.9,940.1 L491.2,938.7 L492.6,937.3 L494.1,936 L495.5,934.6 L496.9,933.3 L498.4,931.9 L499.8,930.6 L501.3,929.3 L502.8,928.1 L504.3,926.8 L505.8,925.5 L507.4,924.3 L508.9,923.1 L510.4,921.8 L512,920.6 L513.6,919.4 L515.2,918.3 L516.8,917.1 L518.4,915.9 L520,914.8 L521.6,913.7 L523.2,912.5 L524.9,911.4 L526.5,910.4 L528.2,909.3 L529.9,908.2 L531.5,907.1 L533.2,906.1 L534.9,905.1 L536.6,904.1 L538.4,903 L540.1,902 L541.8,901.1 L543.5,900.1 L545.3,899.1 L547.1,898.2 L548.8,897.2 L550.6,896.3 L552.4,895.4 L554.1,894.5 L555.9,893.6 L557.7,892.7 L559.5,891.8 L561.3,891 L563.2,890.1 L565,889.3 L566.8,888.4 L568.6,887.6 L570.5,886.8 L572.3,886 L574.2,885.2 L576,884.4 L577.9,883.7 L579.7,882.9 L581.6,882.1 L583.5,881.4 L585.4,880.7 L587.2,879.9 L589.1,879.2 L591,878.5 L592.9,877.8 L594.8,877.2 L596.7,876.5 L598.6,875.8 L600.5,875.2 L602.4,874.5 L604.3,873.9 L606.2,873.2 L608.1,872.6 L610,872 L611.9,871.4 L613.9,870.8 L615.8,870.2 L617.7,869.6 L619.6,869.1 L621.5,868.5 L623.5,867.9 L625.4,867.4 L627.3,866.9 L629.2,866.3 L631.2,865.8 L633.1,865.3 L635,864.8 L637,864.3 L638.9,863.8 L640.8,863.3 L642.8,862.8 L644.7,862.4 L646.7,861.9 L648.6,861.4 L650.6,861 L652.5,860.5 L654.5,860.1 L656.4,859.7 L658.4,859.2 L660.3,858.8 L662.3,858.4 L664.2,858 L666.2,857.6 L668.1,857.2 L670.1,856.8 L672.1,856.4 L674,856 L676,855.7 L677.9,855.3 L679.9,854.9 L681.9,854.6 L683.8,854.2 L685.8,853.9 L687.8,853.5 L689.8,853.2 L691.7,852.9 L693.7,852.6 L695.7,852.2 L697.7,851.9 L699.6,851.6 L701.6,851.3 L703.6,851 L705.6,850.7 L707.5,850.4 L709.5,850.1 L711.5,849.8 L713.5,849.5 L715.5,849.2 L717.5,848.9 L719.4,848.7 L721.4,848.4 L723.4,848.1 L725.4,847.9 L727.4,847.6 L729.4,847.3 L731.4,847.1 L733.3,846.8 L735.3,846.6 L737.3,846.3 L739.3,846.1 L741.3,845.8 L743.3,845.6 L745.3,845.4 L747.3,845.1 L749.3,844.9 L751.3,844.7 L753.3,844.4 L755.3,844.2 L757.3,844 L759.3,843.7 L761.3,843.5 L763.3,843.3 L765.3,843.1 L767.2,842.8 L769.2,842.6 L771.2,842.4 L773.2,842.2 L775.2,842 L777.2,841.8 L779.2,841.5 L781.2,841.3 L783.2,841.1 L785.2,840.9 L787.2,840.7 L789.2,840.5 L791.2,840.3 L793.2,840 L795.2,839.8 L797.2,839.6 L799.2,839.4 L801.2,839.2 L803.2,839 L805.2,838.7 L807.2,838.5 L809.2,838.3 L811.2,838.1 L813.2,837.9 L815.2,837.7 L817.2,837.4 L819.2,837.2 L821.2,837 L823.2,836.8 L825.2,836.5 L827.2,836.3 L829.2,836.1 L831.2,835.8 L833.2,835.6 L835.2,835.4 L837.2,835.1 L839.2,834.9 L841.2,834.6 L843.2,834.4 L845.2,834.2 L847.2,833.9 L849.2,833.7 L851.2,833.4 L853.2,833.1 L855.2,832.9 L857.1,832.6 L859.1,832.4 L861.1,832.1 L863.1,831.8 L865.1,831.5 L867.1,831.3 L869.1,831 L871.1,830.7 L873.1,830.4 L875.1,830.1 L877,829.9 L879,829.6 L881,829.3 L883,829 L885,828.7 L887,828.4 L889,828.1 L890.9,827.8 L892.9,827.5 L894.9,827.2 L896.9,826.9 L898.9,826.6 L900.9,826.3 L902.8,826 L904.8,825.7 L906.8,825.4 L908.8,825.1 L910.8,824.8 L912.7,824.5 L914.7,824.2 L916.7,823.9 L918.7,823.6 L920.7,823.2 L922.6,822.9 L924.6,822.6 L926.6,822.3 L928.6,822 L930.6,821.7 L932.5,821.4 L934.5,821 L936.5,820.7 L938.5,820.4 L940.4,820.1 L942.4,819.8 L944.4,819.5 L946.4,819.1 L948.3,818.8 L950.3,818.5 L952.3,818.2 L954.3,817.9 L956.2,817.6 L958.2,817.3 L960.2,816.9 L962.1,816.6 L964.1,816.3 L966.1,816 L968.1,815.7 L970,815.4 L972,815.1 L974,814.8 L975.9,814.5 L977.9,814.1 L979.9,813.8 L981.8,813.5 L983.8,813.2 L985.8,812.9 L987.8,812.6 L989.7,812.3 L991.7,812 L993.7,811.7 L995.6,811.4 L997.6,811.1 L999.6,810.8 L1001.5,810.6 L1003.5,810.3 L1005.5,810 L1007.4,809.7 L1009.4,809.4 L1011.4,809.1 L1013.3,808.8 L1015.3,808.6 L1017.3,808.3 L1019.2,808 L1021.2,807.7 L1023.2,807.4 L1025.1,807.2 L1027.1,806.9 L1029.1,806.6 L1031,806.4 L1033,806.1 L1035,805.8 L1036.9,805.6 L1038.9,805.3 L1040.9,805 L1042.8,804.8 L1044.8,804.5 L1046.8,804.3 L1048.7,804 L1050.7,803.8 L1052.7,803.5 L1054.7,803.3 L1056.6,803 L1058.6,802.8 L1060.6,802.5 L1062.5,802.3 L1064.5,802 L1066.5,801.8 L1068.5,801.5 L1070.4,801.3 L1072.4,801.1 L1074.4,800.8 L1076.4,800.6 L1078.4,800.4 L1080.3,800.1 L1082.3,799.9 L1084.3,799.7 L1086.3,799.4 L1088.3,799.2 L1090.3,799 L1092.2,798.8 L1094.2,798.6 L1096.2,798.3 L1098.2,798.1 L1100.2,797.9 L1102.2,797.7 L1104.2,797.5 L1106.2,797.3 L1108.2,797 L1110.2,796.8 L1112.1,796.6 L1114.1,796.4 L1116.1,796.2 L1118.1,796 L1120.1,795.8 L1122.1,795.6 L1124.2,795.4 L1126.2,795.2 L1128.2,795 L1130.2,794.8 L1132.2,794.6 L1134.2,794.4 L1136.2,794.3 L1138.2,794.1 L1140.2,793.9 L1142.3,793.7 L1144.3,793.5 L1146.3,793.3 L1148.3,793.1 L1150.3,793 L1152.4,792.8 L1154.4,792.6 L1156.4,792.4 L1158.4,792.2 L1160.5,792.1 L1162.5,791.9 L1164.5,791.7 L1166.6,791.5 L1168.6,791.3 L1170.6,791.1 L1172.6,790.9 L1174.7,790.7 L1176.7,790.5 L1178.7,790.3 L1180.7,790.1 L1182.8,789.9 L1184.8,789.7 L1186.8,789.5 L1188.8,789.3 L1190.9,789.1 L1192.9,788.9 L1194.9,788.6 L1196.9,788.4 L1198.9,788.2 L1200.9,787.9 L1203,787.7 L1205,787.4 L1207,787.2 L1209,786.9 L1211,786.6 L1213,786.4 L1215,786.1 L1217,785.8 L1219,785.5 L1221,785.2 L1222.9,784.9 L1224.9,784.6 L1226.9,784.2 L1228.9,783.9 L1230.9,783.6 L1232.8,783.2 L1234.8,782.9 L1236.8,782.5 L1238.7,782.1 L1240.7,781.7 L1242.6,781.3 L1244.6,780.9 L1246.5,780.5 L1248.5,780.1 L1250.4,779.6 L1252.3,779.2 L1254.2,778.7 L1256.2,778.3 L1258.1,777.8 L1260,777.3 L1261.9,776.8 L1263.8,776.3 L1265.7,775.7 L1267.6,775.2 L1269.4,774.7 L1271.3,774.1 L1273.2,773.5 L1275.1,772.9 L1276.9,772.3 L1278.8,771.7 L1280.6,771 L1282.4,770.4 L1284.3,769.7 L1286.1,769.1 L1287.9,768.4 L1289.7,767.7 L1291.5,766.9 L1293.3,766.2 L1295.1,765.4 L1296.9,764.7 L1298.7,763.9 L1300.4,763.1 L1302.2,762.3 L1304,761.4 L1305.7,760.6 L1307.4,759.7 L1309.2,758.8 L1310.9,757.9 L1312.6,757 L1314.3,756 L1316,755.1 L1317.7,754.1 L1319.4,753.1 L1321,752.1 L1322.7,751 L1324.3,750 L1326,748.9 L1327.6,747.8 L1329.2,746.7 L1330.8,745.6 L1332.4,744.4 L1334,743.3 L1335.6,742.1 L1337.2,740.9 L1338.8,739.7 L1340.3,738.4 L1341.9,737.2 L1343.4,735.9 L1344.9,734.6 L1346.5,733.4 L1348,732 L1349.5,730.7 L1351,729.4 L1352.5,728 L1353.9,726.7 L1355.4,725.3 L1356.9,723.9 L1358.3,722.5 L1359.8,721.1 L1361.2,719.6 L1362.6,718.2 L1364,716.7 L1365.4,715.3 L1366.8,713.8 L1368.2,712.3 L1369.6,710.8 L1371,709.3 L1372.3,707.8 L1373.7,706.2 L1375,704.7 L1376.4,703.1 L1377.7,701.6 L1379,700 L1380.3,698.4 L1381.6,696.8 L1382.9,695.2 L1384.2,693.6 L1385.4,692 L1386.7,690.3 L1388,688.7 L1389.2,687.1 L1390.4,685.4 L1391.7,683.8 L1392.9,682.1 L1394.1,680.4 L1395.3,678.8 L1396.5,677.1 L1397.7,675.4 L1398.8,673.7 L1400,672 L1401.1,670.3 L1402.3,668.6 L1403.4,666.9 L1404.5,665.1 L1405.7,663.4 L1406.8,661.7 L1407.9,660 L1409,658.2 L1410,656.5 L1411.1,654.7 L1412.2,653 L1413.2,651.2 L1414.3,649.5 L1415.3,647.8 L1416.4,646 L1417.4,644.2 L1418.4,642.5 L1419.4,640.7 L1420.4,639 L1421.4,637.2 L1422.3,635.5 L1423.3,633.7 L1424.3,632 L1425.2,630.2 L1426.1,628.4 L1427.1,626.7 L1428,624.9 L1428.9,623.2 L1429.8,621.4 L1430.7,619.6 L1431.6,617.9 L1432.5,616.1 L1433.4,614.3 L1434.3,612.6 L1435.1,610.8 L1436,609 L1436.8,607.3 L1437.7,605.5 L1438.5,603.7 L1439.3,601.9 L1440.1,600.2 L1441,598.4 L1441.8,596.6 L1442.6,594.8 L1443.4,593 L1444.2,591.2 L1444.9,589.4 L1445.7,587.7 L1446.5,585.9 L1447.3,584.1 L1448,582.3 L1448.8,580.5 L1449.5,578.7 L1450.3,576.9 L1451,575.1 L1451.7,573.2 L1452.5,571.4 L1453.2,569.6 L1453.9,567.8 L1454.6,566 L1455.4,564.2 L1456.1,562.3 L1456.8,560.5 L1457.5,558.7 L1458.2,556.8 L1458.9,555 L1459.5,553.2 L1460.2,551.3 L1460.9,549.5 L1461.6,547.6 L1462.3,545.8 L1462.9,543.9 L1463.6,542 L1464.3,540.2 L1464.9,538.3 L1465.6,536.4 L1466.3,534.5 L1466.9,532.7 L1467.6,530.8 L1468.2,528.9 L1468.9,527 L1469.5,525.1 L1470.2,523.2 L1470.9,521.3 L1471.5,519.4 L1472.2,517.5 L1472.8,515.6 L1473.5,513.7 L1474.2,511.8 L1474.8,509.9 L1475.5,508 L1476.2,506.1 L1476.9,504.2 L1477.6,502.3 L1478.3,500.4 L1478.9,498.4 L1479.7,496.5 L1480.4,494.6 L1481.1,492.7 L1481.8,490.8 L1482.5,488.8 L1483.3,486.9 L1484,485 L1488.5,472 L1489.4,457" stroke="#FF0000"/>
<path d="M316.5,1451 L316.5,1440 L318.1,1438.8 L319.7,1437.5 L321.3,1436.2 L322.8,1435 L324.4,1433.7 L326,1432.4 L327.5,1431.1 L329.1,1429.8 L330.6,1428.5 L332.1,1427.2 L333.7,1425.9 L335.2,1424.6 L336.7,1423.3 L338.2,1422 L339.7,1420.7 L341.2,1419.3 L342.7,1418 L344.2,1416.7 L345.7,1415.3 L347.2,1414 L348.7,1412.6 L350.1,1411.2 L351.6,1409.9 L353,1408.5 L354.5,1407.1 L355.9,1405.8 L357.4,1404.4 L358.8,1403 L360.2,1401.6 L361.7,1400.2 L363.1,1398.8 L364.5,1397.4 L365.9,1396 L367.3,1394.6 L368.7,1393.1 L370.1,1391.7 L371.5,1390.3 L372.9,1388.9 L374.2,1387.4 L375.6,1386 L377,1384.5 L378.3,1383.1 L379.7,1381.6 L381.1,1380.2 L382.4,1378.7 L383.8,1377.2 L385.1,1375.8 L386.4,1374.3 L387.8,1372.8 L389.1,1371.4 L390.4,1369.9 L391.7,1368.4 L393,1366.9 L394.3,1365.4 L395.7,1363.9 L397,1362.4 L398.3,1360.9 L399.5,1359.4 L400.8,1357.9 L402.1,1356.3 L403.4,1354.8 L404.7,1353.3 L405.9,1351.8 L407.2,1350.2 L408.5,1348.7 L409.7,1347.2 L411,1345.6 L412.2,1344.1 L413.5,1342.5 L414.7,1341 L416,1339.4 L417.2,1337.9 L418.4,1336.3 L419.7,1334.8 L420.9,1333.2 L422.1,1331.6 L423.4,1330 L424.6,1328.5 L425.8,1326.9 L427,1325.3 L428.2,1323.7 L429.4,1322.1 L430.6,1320.6 L431.8,1319 L433,1317.4 L434.2,1315.8 L435.4,1314.2 L436.6,1312.6 L437.7,1311 L438.9,1309.4 L440.1,1307.8 L441.3,1306.1 L442.4,1304.5 L443.6,1302.9 L444.8,1301.3 L445.9,1299.7 L447.1,1298 L448.2,1296.4 L449.4,1294.8 L450.6,1293.2 L451.7,1291.5 L452.9,1289.9 L454,1288.3 L455.1,1286.6 L456.3,1285 L457.4,1283.3 L458.6,1281.7 L459.7,1280 L460.8,1278.4 L461.9,1276.7 L463.1,1275.1 L464.2,1273.4 L465.3,1271.8 L466.4,1270.1 L467.6,1268.5 L468.7,1266.8 L469.8,1265.1 L470.9,1263.5 L472,1261.8 L473.1,1260.1 L474.2,1258.5 L475.3,1256.8 L476.4,1255.1 L477.5,1253.5 L478.6,1251.8 L479.7,1250.1 L480.8,1248.4 L481.9,1246.8 L483,1245.1 L484.1,1243.4 L485.2,1241.7 L486.3,1240 L487.4,1238.3 L488.5,1236.7 L489.6,1235 L490.7,1233.3 L491.7,1231.6 L492.8,1229.9 L493.9,1228.2 L495,1226.5 L496.1,1224.8 L497.1,1223.1 L498.2,1221.5 L499.3,1219.8 L500.4,1218.1 L501.5,1216.4 L502.5,1214.7 L503.6,1213 L504.7,1211.3 L505.8,1209.6 L506.8,1207.9 L507.9,1206.2 L509,1204.5 L510,1202.8 L511.1,1201.1 L512.2,1199.4 L513.3,1197.7 L514.3,1196 L515.4,1194.3 L516.5,1192.6 L517.5,1190.9 L518.6,1189.2 L519.7,1187.5 L520.7,1185.8 L521.8,1184.1 L522.9,1182.4 L524,1180.7 L525,1179 L526.1,1177.3 L527.2,1175.6 L528.2,1173.9 L529.3,1172.2 L530.4,1170.5 L531.4,1168.8 L532.5,1167.1 L533.6,1165.4 L534.7,1163.7 L535.7,1162 L536.8,1160.3 L537.9,1158.6 L538.9,1156.9 L540,1155.2 L541.1,1153.5 L542.2,1151.8 L543.2,1150.1 L544.3,1148.4 L545.4,1146.7 L546.5,1145 L547.5,1143.3 L548.6,1141.6 L549.7,1139.9 L550.8,1138.2 L551.8,1136.5 L552.9,1134.8 L554,1133.1 L555.1,1131.4 L556.2,1129.7 L557.2,1128 L558.3,1126.3 L559.4,1124.6 L560.5,1123 L561.6,1121.3 L562.6,1119.6 L563.7,1117.9 L564.8,1116.2 L565.9,1114.5 L567,1112.8 L568.1,1111.1 L569.1,1109.4 L570.2,1107.7 L571.3,1106.1 L572.4,1104.4 L573.5,1102.7 L574.6,1101 L575.7,1099.3 L576.8,1097.6 L577.9,1095.9 L579,1094.3 L580,1092.6 L581.1,1090.9 L582.2,1089.2 L583.3,1087.5 L584.4,1085.9 L585.5,1084.2 L586.6,1082.5 L587.7,1080.8 L588.8,1079.1 L589.9,1077.5 L591,1075.8 L592.1,1074.1 L593.2,1072.4 L594.3,1070.8 L595.4,1069.1 L596.5,1067.4 L597.7,1065.8 L598.8,1064.1 L599.9,1062.4 L601,1060.7 L602.1,1059.1 L603.2,1057.4 L604.3,1055.7 L605.4,1054.1 L606.6,1052.4 L607.7,1050.8 L608.8,1049.1 L609.9,1047.4 L611,1045.8 L612.1,1044.1 L613.3,1042.5 L614.4,1040.8 L615.5,1039.1 L616.6,1037.5 L617.8,1035.8 L618.9,1034.2 L620,1032.5 L621.2,1030.9 L622.3,1029.2 L623.4,1027.6 L624.6,1025.9 L625.7,1024.3 L626.8,1022.6 L628,1021 L629.1,1019.3 L630.2,1017.7 L631.4,1016 L632.5,1014.4 L633.7,1012.8 L634.8,1011.1 L636,1009.5 L637.1,1007.8 L638.3,1006.2 L639.4,1004.6 L640.6,1002.9 L641.7,1001.3 L642.9,999.7 L644.1,998 L645.2,996.4 L646.4,994.8 L647.5,993.2 L648.7,991.5 L649.9,989.9 L651,988.3 L652.2,986.7 L653.4,985 L654.5,983.4 L655.7,981.8 L656.9,980.2 L658.1,978.6 L659.2,977 L660.4,975.3 L661.6,973.7 L662.8,972.1 L664,970.5 L665.2,968.9 L666.4,967.3 L667.5,965.7 L668.7,964.1 L669.9,962.5 L671.1,960.9 L672.3,959.3 L673.5,957.7 L674.7,956.1 L675.9,954.5 L677.1,952.9 L678.3,951.3 L679.5,949.7 L680.8,948.1 L682,946.6 L683.2,945 L684.4,943.4 L685.6,941.8 L686.8,940.2 L688.1,938.6 L689.3,937.1 L690.5,935.5 L691.7,933.9 L693,932.3 L694.2,930.8 L695.4,929.2 L696.7,927.6 L697.9,926.1 L699.1,924.5 L700.4,922.9 L701.6,921.4 L702.9,919.8 L704.1,918.3 L705.4,916.7 L706.6,915.1 L707.9,913.6 L709.1,912 L710.4,910.5 L711.7,908.9 L712.9,907.4 L714.2,905.9 L715.5,904.3 L716.7,902.8 L718,901.2 L719.3,899.7 L720.6,898.2 L721.8,896.6 L723.1,895.1 L724.4,893.6 L725.7,892 L727,890.5 L728.3,889 L729.6,887.5 L730.9,885.9 L732.2,884.4 L733.5,882.9 L734.8,881.4 L736.1,879.9 L737.4,878.4 L738.7,876.9 L740,875.4 L741.3,873.9 L742.6,872.4 L743.9,870.9 L745.3,869.4 L746.6,867.9 L747.9,866.4 L749.2,864.9 L750.6,863.4 L751.9,861.9 L753.3,860.4 L754.6,858.9 L755.9,857.4 L757.3,856 L758.6,854.5 L760,853 L761.3,851.5 L762.7,850.1 L764.1,848.6 L765.4,847.1 L766.8,845.7 L768.1,844.2 L769.5,842.7 L770.9,841.3 L772.3,839.8 L773.6,838.4 L775,836.9 L776.4,835.5 L777.8,834 L779.2,832.6 L780.6,831.1 L782,829.7 L783.4,828.2 L784.8,826.8 L786.2,825.4 L787.6,823.9 L789,822.5 L790.4,821.1 L791.8,819.7 L793.2,818.2 L794.7,816.8 L796.1,815.4 L797.5,814 L798.9,812.6 L800.4,811.2 L801.8,809.8 L803.2,808.4 L804.7,806.9 L806.1,805.5 L807.6,804.2 L809,802.8 L810.5,801.4 L811.9,800 L813.4,798.6 L814.9,797.2 L816.3,795.8 L817.8,794.4 L819.3,793.1 L820.8,791.7 L822.2,790.3 L823.7,788.9 L825.2,787.6 L826.7,786.2 L828.2,784.9 L829.7,783.5 L831.2,782.1 L832.7,780.8 L834.2,779.5 L835.7,778.1 L837.2,776.8 L838.7,775.4 L840.2,774.1 L841.8,772.8 L843.3,771.5 L844.8,770.1 L846.4,768.8 L847.9,767.5 L849.4,766.2 L851,764.9 L852.5,763.6 L854.1,762.3 L855.6,761 L857.2,759.8 L858.8,758.5 L860.3,757.2 L861.9,756 L863.5,754.7 L865,753.4 L866.6,752.2 L868.2,751 L869.8,749.7 L871.4,748.5 L873,747.3 L874.6,746 L876.2,744.8 L877.8,743.6 L879.4,742.4 L881,741.2 L882.6,740 L884.2,738.9 L885.9,737.7 L887.5,736.5 L889.1,735.4 L890.8,734.2 L892.4,733.1 L894.1,731.9 L895.7,730.8 L897.4,729.7 L899,728.5 L900.7,727.4 L902.3,726.3 L904,725.2 L905.7,724.1 L907.4,723.1 L909,722 L910.7,720.9 L912.4,719.9 L914.1,718.8 L915.8,717.8 L917.5,716.8 L919.2,715.7 L920.9,714.7 L922.6,713.7 L924.3,712.7 L926.1,711.7 L927.8,710.7 L929.5,709.8 L931.3,708.8 L933,707.9 L934.7,706.9 L936.5,706 L938.2,705.1 L940,704.2 L941.8,703.3 L943.5,702.4 L945.3,701.5 L947.1,700.6 L948.9,699.7 L950.6,698.9 L952.4,698 L954.2,697.2 L956,696.4 L957.8,695.6 L959.6,694.8 L961.4,694 L963.3,693.2 L965.1,692.4 L966.9,691.6 L968.7,690.9 L970.5,690.1 L972.4,689.4 L974.2,688.7 L976.1,688 L977.9,687.3 L979.8,686.6 L981.6,685.9 L983.5,685.2 L985.3,684.5 L987.2,683.9 L989.1,683.2 L990.9,682.6 L992.8,682 L994.7,681.4 L996.6,680.7 L998.5,680.1 L1000.4,679.5 L1002.2,679 L1004.1,678.4 L1006,677.8 L1007.9,677.3 L1009.9,676.7 L1011.8,676.2 L1013.7,675.7 L1015.6,675.1 L1017.5,674.6 L1019.4,674.1 L1021.4,673.6 L1023.3,673.2 L1025.2,672.7 L1027.1,672.2 L1029.1,671.8 L1031,671.3 L1033,670.9 L1034.9,670.4 L1036.8,670 L1038.8,669.6 L1040.7,669.2 L1042.7,668.8 L1044.6,668.4 L1046.6,668 L1048.6,667.7 L1050.5,667.3 L1052.5,666.9 L1054.5,666.6 L1056.4,666.2 L1058.4,665.9 L1060.4,665.6 L1062.3,665.3 L1064.3,665 L1066.3,664.7 L1068.3,664.4 L1070.3,664.1 L1072.3,663.8 L1074.2,663.5 L1076.2,663.3 L1078.2,663 L1080.2,662.8 L1082.2,662.5 L1084.2,662.3 L1086.2,662.1 L1088.2,661.9 L1090.2,661.7 L1092.2,661.5 L1094.2,661.3 L1096.2,661.1 L1098.2,660.9 L1100.2,660.7 L1102.2,660.6 L1104.2,660.4 L1106.2,660.3 L1108.2,660.1 L1110.2,660 L1112.2,659.9 L1114.3,659.7 L1116.3,659.6 L1118.3,659.5 L1120.3,659.4 L1122.3,659.3 L1124.3,659.2 L1126.4,659.1 L1128.4,659 L1130.4,658.9 L1132.4,658.8 L1134.4,658.7 L1136.5,658.7 L1138.5,658.6 L1140.5,658.5 L1142.5,658.4 L1144.5,658.4 L1146.6,658.3 L1148.6,658.3 L1150.6,658.2 L1152.6,658.2 L1154.7,658.1 L1156.7,658.1 L1158.7,658 L1160.8,658 L1162.8,658 L1164.8,657.9 L1166.8,657.9 L1168.9,657.9 L1170.9,657.8 L1172.9,657.8 L1174.9,657.8 L1177,657.7 L1179,657.7 L1181,657.7 L1183.1,657.7 L1185.1,657.6 L1187.1,657.6 L1189.1,657.6 L1191.2,657.6 L1193.2,657.5 L1195.2,657.5 L1197.2,657.5 L1199.3,657.4 L1201.3,657.4 L1203.3,657.4 L1205.3,657.4 L1207.4,657.3 L1209.4,657.3 L1211.4,657.2 L1213.4,657.2 L1215.5,657.2 L1217.5,657.1 L1219.5,657.1 L1221.5,657 L1223.5,657 L1225.6,656.9 L1227.6,656.9 L1229.6,656.8 L1231.6,656.7 L1233.6,656.7 L1235.6,656.6 L1237.7,656.5 L1239.7,656.4 L1241.7,656.4 L1243.7,656.3 L1245.7,656.2 L1247.7,656.1 L1249.7,656 L1251.7,655.9 L1253.7,655.8 L1255.7,655.6 L1257.7,655.5 L1259.7,655.4 L1261.7,655.2 L1263.7,655.1 L1265.7,655 L1267.7,654.8 L1269.7,654.6 L1271.7,654.5 L1273.7,654.3 L1275.7,654.1 L1277.7,653.9 L1279.6,653.8 L1281.6,653.6 L1283.6,653.3 L1285.6,653.1 L1287.6,652.9 L1289.6,652.7 L1291.5,652.4 L1293.5,652.2 L1295.5,651.9 L1297.4,651.7 L1299.4,651.4 L1301.4,651.1 L1303.3,650.8 L1305.3,650.5 L1307.3,650.2 L1309.2,649.9 L1311.2,649.6 L1313.1,649.2 L1315.1,648.9 L1317,648.5 L1319,648.1 L1320.9,647.8 L1322.9,647.4 L1324.8,647 L1326.7,646.6 L1328.7,646.1 L1330.6,645.7 L1332.5,645.2 L1334.4,644.8 L1336.4,644.3 L1338.3,643.8 L1340.2,643.4 L1342.1,642.9 L1344,642.3 L1345.9,641.8 L1347.9,641.3 L1349.8,640.7 L1351.7,640.2 L1353.6,639.6 L1355.4,639 L1357.3,638.5 L1359.2,637.9 L1361.1,637.2 L1363,636.6 L1364.9,636 L1366.7,635.4 L1368.6,634.7 L1370.5,634 L1372.3,633.4 L1374.2,632.7 L1376,632 L1377.9,631.3 L1379.7,630.6 L1381.6,629.8 L1383.4,629.1 L1385.2,628.3 L1387,627.6 L1388.9,626.8 L1390.7,626 L1392.5,625.2 L1394.3,624.4 L1396.1,623.6 L1397.9,622.8 L1399.7,621.9 L1401.5,621.1 L1403.2,620.2 L1405,619.4 L1406.8,618.5 L1408.6,617.6 L1410.3,616.7 L1412.1,615.8 L1413.8,614.9 L1415.6,613.9 L1417.3,613 L1419,612 L1420.8,611.1 L1422.5,610.1 L1424.2,609.1 L1425.9,608.1 L1427.6,607.1 L1429.3,606.1 L1431,605 L1432.7,604 L1434.3,602.9 L1436,601.9 L1437.7,600.8 L1439.3,599.7 L1441,598.6 L1442.6,597.5 L1444.3,596.4 L1445.9,595.3 L1447.5,594.2 L1449.1,593 L1450.8,591.9 L1452.4,590.7 L1453.9,589.5 L1455.5,588.3 L1457.1,587.1 L1458.7,585.9 L1460.3,584.7 L1461.8,583.5 L1463.4,582.2 L1464.9,581 L1466.4,579.7 L1468,578.4 L1469.5,577.1 L1471,575.9 L1472.5,574.6 L1474,573.2 L1475.5,571.9 L1477,570.6 L1478.4,569.2 L1479.9,567.9 L1481.4,566.5 L1482.8,565.1 L1484.3,563.7 L1485.7,562.3 L1487.1,560.9 L1488.5,559.5 L1489.9,558.1 L1491.3,556.6 L1492.7,555.2 L1494.1,553.7 L1495.4,552.3 L1496.8,550.8 L1498.2,549.3 L1499.5,547.8 L1500.8,546.3 L1502.2,544.8 L1503.5,543.2 L1504.8,541.7 L1506.1,540.1 L1507.3,538.6 L1508.6,537 L1509.9,535.4 L1511.1,533.8 L1512.4,532.2 L1513.6,530.6 L1514.8,529 L1516.1,527.3 L1517.3,525.7 L1518.5,524 L1519.6,522.4 L1520.8,520.7 L1522,519 L1523.1,517.3 L1524.3,515.6 L1525.4,513.9 L1526.5,512.1 L1527.6,510.4 L1528.7,508.7 L1529.8,506.9 L1530.9,505.1 L1532,503.3 L1533,501.6 L1534.1,499.8 L1535.1,497.9 L1536.1,496.1 L1537.1,494.3 L1538.1,492.5 L1539.1,490.6 L1540.1,488.7 L1541,486.9 L1542,485 L1549,471 L1551.5,466 L1556,466" stroke="#00FF00"/>
<path d="M320,1516 L321,1507 L322.1,1505.3 L323.1,1503.5 L324.1,1501.8 L325.2,1500 L326.2,1498.3 L327.2,1496.6 L328.3,1494.8 L329.3,1493.1 L330.3,1491.3 L331.3,1489.6 L332.3,1487.8 L333.4,1486.1 L334.4,1484.3 L335.4,1482.6 L336.4,1480.8 L337.4,1479.1 L338.4,1477.3 L339.4,1475.6 L340.4,1473.8 L341.4,1472.1 L342.3,1470.3 L343.3,1468.6 L344.3,1466.8 L345.3,1465.1 L346.3,1463.3 L347.2,1461.6 L348.2,1459.8 L349.2,1458.1 L350.1,1456.3 L351.1,1454.5 L352.1,1452.8 L353,1451 L354,1449.3 L354.9,1447.5 L355.9,1445.8 L356.8,1444 L357.8,1442.2 L358.7,1440.5 L359.7,1438.7 L360.6,1436.9 L361.5,1435.2 L362.5,1433.4 L363.4,1431.7 L364.4,1429.9 L365.3,1428.1 L366.2,1426.4 L367.1,1424.6 L368.1,1422.8 L369,1421.1 L369.9,1419.3 L370.8,1417.5 L371.7,1415.8 L372.7,1414 L373.6,1412.2 L374.5,1410.5 L375.4,1408.7 L376.3,1406.9 L377.2,1405.2 L378.1,1403.4 L379,1401.6 L379.9,1399.9 L380.8,1398.1 L381.7,1396.3 L382.6,1394.5 L383.5,1392.8 L384.4,1391 L385.3,1389.2 L386.2,1387.5 L387.1,1385.7 L388,1383.9 L388.9,1382.1 L389.8,1380.4 L390.7,1378.6 L391.6,1376.8 L392.5,1375 L393.4,1373.3 L394.2,1371.5 L395.1,1369.7 L396,1367.9 L396.9,1366.2 L397.8,1364.4 L398.7,1362.6 L399.5,1360.8 L400.4,1359 L401.3,1357.3 L402.2,1355.5 L403,1353.7 L403.9,1351.9 L404.8,1350.2 L405.7,1348.4 L406.6,1346.6 L407.4,1344.8 L408.3,1343 L409.2,1341.3 L410.1,1339.5 L410.9,1337.7 L411.8,1335.9 L412.7,1334.1 L413.6,1332.4 L414.4,1330.6 L415.3,1328.8 L416.2,1327 L417.1,1325.2 L417.9,1323.5 L418.8,1321.7 L419.7,1319.9 L420.5,1318.1 L421.4,1316.3 L422.3,1314.5 L423.2,1312.8 L424,1311 L424.9,1309.2 L425.8,1307.4 L426.7,1305.6 L427.5,1303.9 L428.4,1302.1 L429.3,1300.3 L430.2,1298.5 L431,1296.7 L431.9,1294.9 L432.8,1293.2 L433.7,1291.4 L434.6,1289.6 L435.4,1287.8 L436.3,1286 L437.2,1284.2 L438.1,1282.5 L439,1280.7 L439.8,1278.9 L440.7,1277.1 L441.6,1275.3 L442.5,1273.5 L443.4,1271.8 L444.3,1270 L445.2,1268.2 L446.1,1266.4 L446.9,1264.6 L447.8,1262.8 L448.7,1261.1 L449.6,1259.3 L450.5,1257.5 L451.4,1255.7 L452.3,1253.9 L453.2,1252.1 L454.1,1250.4 L455,1248.6 L455.9,1246.8 L456.8,1245 L457.7,1243.2 L458.6,1241.5 L459.5,1239.7 L460.5,1237.9 L461.4,1236.1 L462.3,1234.3 L463.2,1232.5 L464.1,1230.8 L465,1229 L466,1227.2 L466.9,1225.4 L467.8,1223.6 L468.7,1221.8 L469.7,1220.1 L470.6,1218.3 L471.5,1216.5 L472.5,1214.7 L473.4,1212.9 L474.3,1211.2 L475.3,1209.4 L476.2,1207.6 L477.1,1205.8 L478.1,1204 L479,1202.3 L480,1200.5 L480.9,1198.7 L481.9,1196.9 L482.9,1195.1 L483.8,1193.4 L484.8,1191.6 L485.7,1189.8 L486.7,1188 L487.7,1186.3 L488.7,1184.5 L489.6,1182.7 L490.6,1180.9 L491.6,1179.2 L492.6,1177.4 L493.5,1175.6 L494.5,1173.8 L495.5,1172 L496.5,1170.3 L497.5,1168.5 L498.5,1166.7 L499.5,1165 L500.5,1163.2 L501.5,1161.4 L502.5,1159.6 L503.5,1157.9 L504.6,1156.1 L505.6,1154.3 L506.6,1152.6 L507.6,1150.8 L508.7,1149 L509.7,1147.3 L510.7,1145.5 L511.8,1143.8 L512.8,1142 L513.8,1140.3 L514.9,1138.5 L515.9,1136.7 L517,1135 L518.1,1133.2 L519.1,1131.5 L520.2,1129.8 L521.2,1128 L522.3,1126.3 L523.4,1124.5 L524.5,1122.8 L525.5,1121.1 L526.6,1119.3 L527.7,1117.6 L528.8,1115.9 L529.9,1114.1 L531,1112.4 L532.1,1110.7 L533.2,1109 L534.3,1107.3 L535.4,1105.6 L536.5,1103.9 L537.7,1102.1 L538.8,1100.4 L539.9,1098.7 L541.1,1097 L542.2,1095.4 L543.3,1093.7 L544.5,1092 L545.6,1090.3 L546.8,1088.6 L547.9,1086.9 L549.1,1085.3 L550.2,1083.6 L551.4,1081.9 L552.6,1080.3 L553.8,1078.6 L554.9,1077 L556.1,1075.3 L557.3,1073.7 L558.5,1072 L559.7,1070.4 L560.9,1068.7 L562.1,1067.1 L563.3,1065.5 L564.5,1063.9 L565.8,1062.2 L567,1060.6 L568.2,1059 L569.4,1057.4 L570.7,1055.8 L571.9,1054.2 L573.2,1052.6 L574.4,1051.1 L575.7,1049.5 L576.9,1047.9 L578.2,1046.3 L579.5,1044.8 L580.7,1043.2 L582,1041.7 L583.3,1040.1 L584.6,1038.6 L585.9,1037 L587.2,1035.5 L588.5,1034 L589.8,1032.4 L591.1,1030.9 L592.4,1029.4 L593.7,1027.9 L595.1,1026.4 L596.4,1024.9 L597.7,1023.4 L599.1,1022 L600.4,1020.5 L601.8,1019 L603.1,1017.5 L604.5,1016.1 L605.9,1014.6 L607.2,1013.2 L608.6,1011.8 L610,1010.3 L611.4,1008.9 L612.8,1007.5 L614.2,1006.1 L615.6,1004.7 L617,1003.3 L618.4,1001.9 L619.8,1000.5 L621.3,999.1 L622.7,997.8 L624.1,996.4 L625.6,995 L627,993.7 L628.5,992.3 L629.9,991 L631.4,989.7 L632.9,988.4 L634.3,987.1 L635.8,985.8 L637.3,984.5 L638.8,983.2 L640.3,981.9 L641.8,980.6 L643.3,979.3 L644.8,978.1 L646.4,976.8 L647.9,975.6 L649.4,974.4 L651,973.1 L652.5,971.9 L654.1,970.7 L655.6,969.5 L657.2,968.3 L658.8,967.1 L660.4,966 L661.9,964.8 L663.5,963.7 L665.1,962.5 L666.7,961.4 L668.3,960.2 L670,959.1 L671.6,958 L673.2,956.9 L674.9,955.8 L676.5,954.7 L678.1,953.6 L679.8,952.6 L681.5,951.5 L683.1,950.5 L684.8,949.4 L686.5,948.4 L688.2,947.4 L689.9,946.4 L691.6,945.4 L693.3,944.4 L695,943.4 L696.7,942.4 L698.4,941.4 L700.1,940.5 L701.9,939.5 L703.6,938.6 L705.3,937.6 L707.1,936.7 L708.8,935.8 L710.6,934.9 L712.3,934 L714.1,933.1 L715.9,932.2 L717.7,931.3 L719.4,930.4 L721.2,929.5 L723,928.7 L724.8,927.8 L726.6,927 L728.4,926.1 L730.2,925.3 L732.1,924.5 L733.9,923.7 L735.7,922.9 L737.5,922.1 L739.4,921.3 L741.2,920.5 L743,919.7 L744.9,918.9 L746.7,918.2 L748.6,917.4 L750.4,916.7 L752.3,915.9 L754.2,915.2 L756,914.4 L757.9,913.7 L759.8,913 L761.6,912.3 L763.5,911.6 L765.4,910.9 L767.3,910.2 L769.2,909.5 L771.1,908.8 L773,908.1 L774.9,907.4 L776.8,906.8 L778.7,906.1 L780.6,905.5 L782.5,904.8 L784.4,904.2 L786.3,903.5 L788.2,902.9 L790.1,902.3 L792.1,901.7 L794,901 L795.9,900.4 L797.9,899.8 L799.8,899.2 L801.7,898.6 L803.7,898 L805.6,897.4 L807.5,896.9 L809.5,896.3 L811.4,895.7 L813.4,895.2 L815.3,894.6 L817.2,894 L819.2,893.5 L821.1,892.9 L823.1,892.4 L825.1,891.8 L827,891.3 L829,890.8 L830.9,890.3 L832.9,889.7 L834.8,889.2 L836.8,888.7 L838.8,888.2 L840.7,887.7 L842.7,887.2 L844.6,886.7 L846.6,886.2 L848.6,885.7 L850.5,885.2 L852.5,884.7 L854.5,884.2 L856.4,883.7 L858.4,883.3 L860.4,882.8 L862.3,882.3 L864.3,881.9 L866.3,881.4 L868.2,880.9 L870.2,880.5 L872.1,880 L874.1,879.6 L876.1,879.1 L878,878.7 L880,878.2 L882,877.8 L883.9,877.3 L885.9,876.9 L887.8,876.4 L889.8,876 L891.8,875.6 L893.7,875.1 L895.7,874.7 L897.6,874.2 L899.6,873.8 L901.5,873.3 L903.5,872.9 L905.4,872.4 L907.4,872 L909.3,871.5 L911.3,871 L913.2,870.6 L915.1,870.1 L917.1,869.6 L919,869.2 L920.9,868.7 L922.9,868.2 L924.8,867.7 L926.7,867.2 L928.7,866.7 L930.6,866.2 L932.5,865.7 L934.4,865.2 L936.3,864.6 L938.2,864.1 L940.1,863.6 L942,863 L943.9,862.5 L945.8,861.9 L947.7,861.4 L949.6,860.8 L951.5,860.2 L953.4,859.6 L955.2,859 L957.1,858.4 L959,857.8 L960.8,857.1 L962.7,856.5 L964.6,855.9 L966.4,855.2 L968.3,854.5 L970.1,853.8 L971.9,853.2 L973.8,852.4 L975.6,851.7 L977.4,851 L979.3,850.3 L981.1,849.5 L982.9,848.7 L984.7,848 L986.5,847.2 L988.3,846.4 L990.1,845.5 L991.9,844.7 L993.6,843.9 L995.4,843 L997.2,842.1 L998.9,841.2 L1000.7,840.3 L1002.5,839.4 L1004.2,838.5 L1005.9,837.5 L1007.7,836.5 L1009.4,835.6 L1011.1,834.6 L1012.8,833.6 L1014.6,832.5 L1016.3,831.5 L1018,830.5 L1019.7,829.4 L1021.3,828.3 L1023,827.2 L1024.7,826.1 L1026.4,825 L1028.1,823.9 L1029.7,822.8 L1031.4,821.7 L1033,820.5 L1034.7,819.4 L1036.3,818.2 L1038,817 L1039.6,815.8 L1041.2,814.7 L1042.9,813.5 L1044.5,812.2 L1046.1,811 L1047.7,809.8 L1049.3,808.6 L1050.9,807.3 L1052.5,806.1 L1054.1,804.8 L1055.7,803.6 L1057.3,802.3 L1058.9,801 L1060.5,799.8 L1062,798.5 L1063.6,797.2 L1065.2,795.9 L1066.7,794.6 L1068.3,793.3 L1069.8,792 L1071.4,790.7 L1072.9,789.4 L1074.4,788.1 L1076,786.8 L1077.5,785.5 L1079,784.1 L1080.6,782.8 L1082.1,781.5 L1083.6,780.1 L1085.1,778.8 L1086.6,777.5 L1088.1,776.1 L1089.6,774.8 L1091.1,773.4 L1092.6,772 L1094.1,770.7 L1095.6,769.3 L1097,767.9 L1098.5,766.6 L1100,765.2 L1101.5,763.8 L1102.9,762.4 L1104.4,761 L1105.8,759.6 L1107.3,758.2 L1108.7,756.9 L1110.2,755.4 L1111.6,754 L1113.1,752.6 L1114.5,751.2 L1115.9,749.8 L1117.3,748.4 L1118.8,747 L1120.2,745.5 L1121.6,744.1 L1123,742.7 L1124.4,741.3 L1125.8,739.8 L1127.2,738.4 L1128.6,736.9 L1130,735.5 L1131.4,734 L1132.8,732.6 L1134.2,731.1 L1135.5,729.7 L1136.9,728.2 L1138.3,726.8 L1139.7,725.3 L1141,723.8 L1142.4,722.3 L1143.7,720.9 L1145.1,719.4 L1146.4,717.9 L1147.8,716.4 L1149.1,714.9 L1150.5,713.5 L1151.8,712 L1153.1,710.5 L1154.5,709 L1155.8,707.5 L1157.1,706 L1158.4,704.5 L1159.7,703 L1161.1,701.5 L1162.4,700 L1163.7,698.4 L1165,696.9 L1166.3,695.4 L1167.6,693.9 L1168.9,692.4 L1170.2,690.8 L1171.4,689.3 L1172.7,687.8 L1174,686.3 L1175.3,684.7 L1176.6,683.2 L1177.9,681.7 L1179.1,680.1 L1180.4,678.6 L1181.7,677 L1182.9,675.5 L1184.2,674 L1185.5,672.4 L1186.7,670.9 L1188,669.3 L1189.2,667.8 L1190.5,666.2 L1191.7,664.7 L1193,663.1 L1194.2,661.5 L1195.5,660 L1196.7,658.4 L1198,656.9 L1199.2,655.3 L1200.5,653.7 L1201.7,652.2 L1203,650.6 L1204.2,649.1 L1205.4,647.5 L1206.7,645.9 L1207.9,644.4 L1209.2,642.8 L1210.4,641.2 L1211.6,639.7 L1212.9,638.1 L1214.1,636.5 L1215.3,634.9 L1216.6,633.4 L1217.8,631.8 L1219,630.2 L1220.3,628.7 L1221.5,627.1 L1222.7,625.5 L1224,623.9 L1225.2,622.4 L1226.5,620.8 L1227.7,619.2 L1228.9,617.7 L1230.2,616.1 L1231.4,614.5 L1232.6,612.9 L1233.9,611.4 L1235.1,609.8 L1236.4,608.2 L1237.6,606.7 L1238.8,605.1 L1240.1,603.5 L1241.3,601.9 L1242.6,600.4 L1243.8,598.8 L1245.1,597.2 L1246.3,595.7 L1247.6,594.1 L1248.8,592.5 L1250.1,591 L1251.3,589.4 L1252.6,587.8 L1253.8,586.3 L1255.1,584.7 L1256.4,583.1 L1257.6,581.6 L1258.9,580 L1260.2,578.5 L1261.4,576.9 L1262.7,575.4 L1264,573.8 L1265.3,572.3 L1266.5,570.7 L1267.8,569.2 L1269.1,567.6 L1270.4,566.1 L1271.7,564.5 L1273,563 L1274.3,561.4 L1275.6,559.9 L1276.9,558.3 L1278.2,556.8 L1279.5,555.3 L1280.8,553.7 L1282.1,552.2 L1283.5,550.7 L1284.8,549.2 L1286.1,547.6 L1287.4,546.1 L1288.8,544.6 L1290.1,543.1 L1291.5,541.6 L1292.8,540.1 L1294.2,538.6 L1295.5,537.1 L1296.9,535.6 L1298.3,534.1 L1299.6,532.6 L1301,531.1 L1302.4,529.7 L1303.8,528.2 L1305.2,526.8 L1306.6,525.3 L1308,523.9 L1309.4,522.5 L1310.9,521.1 L1312.3,519.6 L1313.7,518.2 L1315.2,516.9 L1316.6,515.5 L1318.1,514.1 L1319.6,512.8 L1321,511.4 L1322.5,510.1 L1324,508.8 L1325.5,507.5 L1327,506.2 L1328.6,504.9 L1330.1,503.6 L1331.6,502.4 L1333.2,501.1 L1334.7,499.9 L1336.3,498.7 L1337.9,497.5 L1339.5,496.3 L1341.1,495.2 L1342.7,494 L1344.3,492.9 L1346,491.8 L1347.6,490.7 L1349.3,489.6 L1350.9,488.5 L1352.6,487.5 L1354.3,486.5 L1356,485.5 L1357.7,484.5 L1359.4,483.5 L1361.2,482.6 L1362.9,481.7 L1364.7,480.8 L1366.5,479.9 L1368.3,479 L1370.1,478.2 L1371.9,477.4 L1373.7,476.6 L1375.6,475.8 L1377.4,475 L1379.3,474.3 L1381.2,473.6 L1383.1,472.9 L1385,472.3 L1392,470.5 L1413,470.5" stroke="#0000FF"/>
<path d="M292.5,1463 L292.5,1440 L293.1,1438.1 L293.7,1436.2 L294.3,1434.3 L294.9,1432.4 L295.6,1430.5 L296.2,1428.6 L296.8,1426.7 L297.4,1424.8 L298.1,1422.9 L298.7,1421 L299.4,1419.1 L300,1417.3 L300.6,1415.4 L301.3,1413.5 L301.9,1411.6 L302.6,1409.7 L303.3,1407.8 L303.9,1406 L304.6,1404.1 L305.2,1402.2 L305.9,1400.3 L306.6,1398.5 L307.3,1396.6 L307.9,1394.7 L308.6,1392.9 L309.3,1391 L310,1389.1 L310.7,1387.2 L311.3,1385.4 L312,1383.5 L312.7,1381.7 L313.4,1379.8 L314.1,1377.9 L314.8,1376.1 L315.5,1374.2 L316.2,1372.3 L316.9,1370.5 L317.6,1368.6 L318.4,1366.8 L319.1,1364.9 L319.8,1363.1 L320.5,1361.2 L321.2,1359.3 L321.9,1357.5 L322.7,1355.6 L323.4,1353.8 L324.1,1351.9 L324.8,1350.1 L325.6,1348.2 L326.3,1346.3 L327,1344.5 L327.8,1342.6 L328.5,1340.8 L329.2,1338.9 L330,1337.1 L330.7,1335.2 L331.5,1333.4 L332.2,1331.5 L332.9,1329.6 L333.7,1327.8 L334.4,1325.9 L335.2,1324.1 L335.9,1322.2 L336.7,1320.4 L337.4,1318.5 L338.2,1316.6 L338.9,1314.8 L339.7,1312.9 L340.5,1311.1 L341.2,1309.2 L342,1307.3 L342.7,1305.5 L343.5,1303.6 L344.3,1301.8 L345,1299.9 L345.8,1298.1 L346.6,1296.2 L347.3,1294.3 L348.1,1292.5 L348.9,1290.6 L349.7,1288.8 L350.4,1286.9 L351.2,1285.1 L352,1283.2 L352.8,1281.4 L353.6,1279.5 L354.4,1277.7 L355.2,1275.8 L356,1273.9 L356.8,1272.1 L357.6,1270.2 L358.4,1268.4 L359.2,1266.5 L360,1264.7 L360.8,1262.9 L361.6,1261 L362.4,1259.2 L363.2,1257.3 L364,1255.5 L364.9,1253.6 L365.7,1251.8 L366.5,1250 L367.3,1248.1 L368.2,1246.3 L369,1244.4 L369.8,1242.6 L370.7,1240.8 L371.5,1238.9 L372.4,1237.1 L373.2,1235.3 L374.1,1233.5 L374.9,1231.6 L375.8,1229.8 L376.6,1228 L377.5,1226.2 L378.4,1224.4 L379.3,1222.5 L380.1,1220.7 L381,1218.9 L381.9,1217.1 L382.8,1215.3 L383.7,1213.5 L384.6,1211.7 L385.5,1209.9 L386.4,1208.1 L387.3,1206.3 L388.2,1204.5 L389.1,1202.7 L390,1200.9 L390.9,1199.1 L391.8,1197.3 L392.8,1195.5 L393.7,1193.7 L394.6,1191.9 L395.6,1190.2 L396.5,1188.4 L397.4,1186.6 L398.4,1184.8 L399.3,1183.1 L400.3,1181.3 L401.3,1179.5 L402.2,1177.8 L403.2,1176 L404.2,1174.3 L405.1,1172.5 L406.1,1170.7 L407.1,1169 L408.1,1167.2 L409.1,1165.5 L410.1,1163.8 L411.1,1162 L412.1,1160.3 L413.1,1158.6 L414.2,1156.8 L415.2,1155.1 L416.2,1153.4 L417.2,1151.7 L418.3,1150 L419.3,1148.2 L420.4,1146.5 L421.4,1144.8 L422.5,1143.1 L423.5,1141.4 L424.6,1139.7 L425.7,1138 L426.8,1136.3 L427.8,1134.7 L428.9,1133 L430,1131.3 L431.1,1129.6 L432.2,1128 L433.3,1126.3 L434.5,1124.6 L435.6,1123 L436.7,1121.3 L437.8,1119.7 L439,1118 L440.1,1116.4 L441.3,1114.7 L442.4,1113.1 L443.6,1111.5 L444.7,1109.8 L445.9,1108.2 L447.1,1106.6 L448.3,1105 L449.4,1103.4 L450.6,1101.8 L451.8,1100.2 L453,1098.6 L454.3,1097 L455.5,1095.4 L456.7,1093.8 L457.9,1092.2 L459.2,1090.6 L460.4,1089.1 L461.7,1087.5 L462.9,1085.9 L464.2,1084.4 L465.4,1082.8 L466.7,1081.3 L468,1079.7 L469.3,1078.2 L470.6,1076.7 L471.9,1075.1 L473.2,1073.6 L474.5,1072.1 L475.8,1070.6 L477.1,1069.1 L478.5,1067.6 L479.8,1066.1 L481.1,1064.6 L482.5,1063.1 L483.9,1061.6 L485.2,1060.1 L486.6,1058.7 L488,1057.2 L489.4,1055.7 L490.7,1054.3 L492.1,1052.8 L493.5,1051.4 L495,1050 L496.4,1048.5 L497.8,1047.1 L499.2,1045.7 L500.7,1044.3 L502.1,1042.9 L503.6,1041.5 L505,1040.1 L506.5,1038.8 L507.9,1037.4 L509.4,1036 L510.9,1034.7 L512.4,1033.3 L513.9,1032 L515.4,1030.7 L516.9,1029.3 L518.4,1028 L519.9,1026.7 L521.4,1025.4 L523,1024.1 L524.5,1022.9 L526.1,1021.6 L527.6,1020.3 L529.2,1019.1 L530.7,1017.9 L532.3,1016.6 L533.9,1015.4 L535.5,1014.2 L537,1013 L538.6,1011.8 L540.2,1010.6 L541.9,1009.4 L543.5,1008.3 L545.1,1007.1 L546.7,1006 L548.3,1004.8 L550,1003.7 L551.6,1002.6 L553.3,1001.5 L554.9,1000.4 L556.6,999.3 L558.3,998.3 L559.9,997.2 L561.6,996.2 L563.3,995.1 L565,994.1 L566.7,993.1 L568.4,992.1 L570.1,991.1 L571.8,990.1 L573.6,989.2 L575.3,988.2 L577,987.3 L578.8,986.4 L580.5,985.5 L582.3,984.6 L584,983.7 L585.8,982.8 L587.6,981.9 L589.3,981.1 L591.1,980.3 L592.9,979.4 L594.7,978.6 L596.5,977.8 L598.3,977.1 L600.1,976.3 L601.9,975.5 L603.8,974.8 L605.6,974.1 L607.4,973.4 L609.3,972.7 L611.1,972 L613,971.3 L614.8,970.6 L616.7,970 L618.5,969.4 L620.4,968.7 L622.3,968.1 L624.2,967.5 L626.1,967 L627.9,966.4 L629.8,965.8 L631.7,965.3 L633.6,964.8 L635.5,964.2 L637.5,963.7 L639.4,963.2 L641.3,962.7 L643.2,962.3 L645.1,961.8 L647.1,961.4 L649,960.9 L650.9,960.5 L652.9,960.1 L654.8,959.7 L656.8,959.3 L658.7,958.9 L660.7,958.5 L662.6,958.2 L664.6,957.8 L666.6,957.5 L668.5,957.2 L670.5,956.8 L672.5,956.5 L674.4,956.2 L676.4,955.9 L678.4,955.7 L680.4,955.4 L682.4,955.1 L684.3,954.9 L686.3,954.7 L688.3,954.4 L690.3,954.2 L692.3,954 L694.3,953.8 L696.3,953.6 L698.3,953.4 L700.3,953.3 L702.3,953.1 L704.3,953 L706.3,952.8 L708.3,952.7 L710.3,952.6 L712.3,952.4 L714.3,952.3 L716.3,952.2 L718.4,952.1 L720.4,952 L722.4,952 L724.4,951.9 L726.4,951.8 L728.4,951.7 L730.4,951.7 L732.5,951.6 L734.5,951.6 L736.5,951.6 L738.5,951.5 L740.6,951.5 L742.6,951.5 L744.6,951.5 L746.6,951.4 L748.7,951.4 L750.7,951.4 L752.7,951.4 L754.7,951.5 L756.8,951.5 L758.8,951.5 L760.8,951.5 L762.9,951.5 L764.9,951.5 L766.9,951.6 L769,951.6 L771,951.6 L773,951.7 L775.1,951.7 L777.1,951.8 L779.1,951.8 L781.2,951.9 L783.2,951.9 L785.3,952 L787.3,952 L789.3,952.1 L791.4,952.1 L793.4,952.2 L795.4,952.2 L797.5,952.3 L799.5,952.4 L801.5,952.4 L803.6,952.5 L805.6,952.5 L807.7,952.6 L809.7,952.7 L811.7,952.7 L813.8,952.8 L815.8,952.8 L817.8,952.9 L819.9,953 L821.9,953 L823.9,953.1 L826,953.1 L828,953.2 L830.1,953.2 L832.1,953.3 L834.1,953.3 L836.2,953.3 L838.2,953.4 L840.2,953.4 L842.2,953.4 L844.3,953.5 L846.3,953.5 L848.3,953.5 L850.4,953.5 L852.4,953.5 L854.4,953.5 L856.4,953.5 L858.5,953.5 L860.5,953.5 L862.5,953.5 L864.5,953.5 L866.6,953.5 L868.6,953.5 L870.6,953.4 L872.6,953.4 L874.6,953.4 L876.6,953.3 L878.7,953.3 L880.7,953.2 L882.7,953.1 L884.7,953.1 L886.7,953 L888.7,952.9 L890.7,952.8 L892.7,952.7 L894.7,952.6 L896.7,952.5 L898.7,952.3 L900.7,952.2 L902.7,952.1 L904.7,951.9 L906.7,951.8 L908.7,951.6 L910.7,951.4 L912.7,951.2 L914.7,951 L916.7,950.8 L918.7,950.6 L920.6,950.4 L922.6,950.2 L924.6,949.9 L926.6,949.7 L928.5,949.4 L930.5,949.2 L932.5,948.9 L934.5,948.6 L936.4,948.3 L938.4,948 L940.4,947.7 L942.3,947.4 L944.3,947.1 L946.3,946.8 L948.2,946.4 L950.2,946.1 L952.1,945.7 L954.1,945.3 L956,945 L958,944.6 L959.9,944.2 L961.9,943.8 L963.8,943.4 L965.7,943 L967.7,942.6 L969.6,942.1 L971.6,941.7 L973.5,941.3 L975.4,940.8 L977.3,940.3 L979.3,939.9 L981.2,939.4 L983.1,938.9 L985,938.4 L987,937.9 L988.9,937.4 L990.8,936.9 L992.7,936.4 L994.6,935.9 L996.5,935.3 L998.4,934.8 L1000.3,934.2 L1002.2,933.7 L1004.1,933.1 L1006,932.5 L1007.9,931.9 L1009.8,931.3 L1011.7,930.7 L1013.6,930.1 L1015.5,929.5 L1017.4,928.9 L1019.2,928.3 L1021.1,927.7 L1023,927 L1024.9,926.4 L1026.8,925.7 L1028.6,925 L1030.5,924.4 L1032.4,923.7 L1034.2,923 L1036.1,922.3 L1037.9,921.6 L1039.8,920.9 L1041.6,920.2 L1043.5,919.5 L1045.3,918.8 L1047.2,918 L1049,917.3 L1050.9,916.5 L1052.7,915.8 L1054.6,915 L1056.4,914.3 L1058.2,913.5 L1060.1,912.7 L1061.9,911.9 L1063.7,911.1 L1065.5,910.3 L1067.3,909.5 L1069.2,908.7 L1071,907.9 L1072.8,907.1 L1074.6,906.2 L1076.4,905.4 L1078.2,904.5 L1080,903.7 L1081.8,902.8 L1083.6,902 L1085.4,901.1 L1087.2,900.2 L1089,899.3 L1090.8,898.5 L1092.6,897.6 L1094.3,896.7 L1096.1,895.7 L1097.9,894.8 L1099.7,893.9 L1101.4,893 L1103.2,892.1 L1105,891.1 L1106.7,890.2 L1108.5,889.2 L1110.2,888.3 L1112,887.3 L1113.7,886.3 L1115.5,885.4 L1117.2,884.4 L1119,883.4 L1120.7,882.4 L1122.5,881.4 L1124.2,880.4 L1125.9,879.4 L1127.6,878.4 L1129.4,877.4 L1131.1,876.4 L1132.8,875.3 L1134.5,874.3 L1136.2,873.2 L1138,872.2 L1139.7,871.1 L1141.4,870.1 L1143.1,869 L1144.8,868 L1146.5,866.9 L1148.2,865.8 L1149.8,864.7 L1151.5,863.6 L1153.2,862.5 L1154.9,861.4 L1156.6,860.3 L1158.2,859.2 L1159.9,858.1 L1161.6,857 L1163.3,855.9 L1164.9,854.7 L1166.6,853.6 L1168.2,852.5 L1169.9,851.3 L1171.5,850.2 L1173.2,849 L1174.8,847.9 L1176.5,846.7 L1178.1,845.5 L1179.7,844.3 L1181.4,843.2 L1183,842 L1184.6,840.8 L1186.2,839.6 L1187.9,838.4 L1189.5,837.2 L1191.1,836 L1192.7,834.8 L1194.3,833.6 L1195.9,832.3 L1197.5,831.1 L1199.1,829.9 L1200.7,828.7 L1202.3,827.4 L1203.8,826.2 L1205.4,824.9 L1207,823.7 L1208.6,822.4 L1210.2,821.2 L1211.7,819.9 L1213.3,818.6 L1214.8,817.4 L1216.4,816.1 L1218,814.8 L1219.5,813.5 L1221.1,812.2 L1222.6,810.9 L1224.1,809.6 L1225.7,808.3 L1227.2,807 L1228.7,805.7 L1230.3,804.4 L1231.8,803.1 L1233.3,801.8 L1234.8,800.5 L1236.3,799.1 L1237.8,797.8 L1239.3,796.5 L1240.8,795.1 L1242.3,793.8 L1243.8,792.4 L1245.3,791.1 L1246.8,789.7 L1248.3,788.4 L1249.8,787 L1251.3,785.7 L1252.7,784.3 L1254.2,782.9 L1255.7,781.5 L1257.1,780.2 L1258.6,778.8 L1260,777.4 L1261.5,776 L1262.9,774.6 L1264.4,773.2 L1265.8,771.8 L1267.2,770.4 L1268.7,769 L1270.1,767.6 L1271.5,766.2 L1272.9,764.8 L1274.4,763.4 L1275.8,762 L1277.2,760.5 L1278.6,759.1 L1280,757.7 L1281.4,756.2 L1282.8,754.8 L1284.2,753.4 L1285.6,751.9 L1286.9,750.5 L1288.3,749.1 L1289.7,747.6 L1291.1,746.2 L1292.5,744.7 L1293.8,743.3 L1295.2,741.8 L1296.6,740.3 L1297.9,738.9 L1299.3,737.4 L1300.6,736 L1302,734.5 L1303.4,733 L1304.7,731.5 L1306.1,730.1 L1307.4,728.6 L1308.7,727.1 L1310.1,725.6 L1311.4,724.2 L1312.8,722.7 L1314.1,721.2 L1315.4,719.7 L1316.8,718.2 L1318.1,716.7 L1319.4,715.3 L1320.8,713.8 L1322.1,712.3 L1323.4,710.8 L1324.7,709.3 L1326.1,707.8 L1327.4,706.3 L1328.7,704.8 L1330,703.3 L1331.3,701.8 L1332.7,700.3 L1334,698.8 L1335.3,697.3 L1336.6,695.8 L1337.9,694.3 L1339.2,692.8 L1340.5,691.3 L1341.8,689.8 L1343.2,688.3 L1344.5,686.7 L1345.8,685.2 L1347.1,683.7 L1348.4,682.2 L1349.7,680.7 L1351,679.2 L1352.3,677.7 L1353.6,676.2 L1354.9,674.7 L1356.2,673.2 L1357.5,671.6 L1358.8,670.1 L1360.2,668.6 L1361.5,667.1 L1362.8,665.6 L1364.1,664.1 L1365.4,662.6 L1366.7,661.1 L1368,659.6 L1369.3,658 L1370.6,656.5 L1371.9,655 L1373.2,653.5 L1374.6,652 L1375.9,650.5 L1377.2,649 L1378.5,647.5 L1379.8,646 L1381.1,644.5 L1382.4,642.9 L1383.7,641.4 L1385.1,639.9 L1386.4,638.4 L1387.7,636.9 L1389,635.4 L1390.3,633.9 L1391.6,632.4 L1392.9,630.9 L1394.2,629.4 L1395.6,627.9 L1396.9,626.3 L1398.2,624.8 L1399.5,623.3 L1400.8,621.8 L1402.1,620.3 L1403.5,618.8 L1404.8,617.3 L1406.1,615.8 L1407.4,614.3 L1408.7,612.8 L1410,611.3 L1411.3,609.8 L1412.7,608.2 L1414,606.7 L1415.3,605.2 L1416.6,603.7 L1417.9,602.2 L1419.2,600.7 L1420.6,599.2 L1421.9,597.7 L1423.2,596.2 L1424.5,594.7 L1425.8,593.2 L1427.1,591.6 L1428.5,590.1 L1429.8,588.6 L1431.1,587.1 L1432.4,585.6 L1433.7,584.1 L1435,582.6 L1436.3,581.1 L1437.7,579.6 L1439,578.1 L1440.3,576.5 L1441.6,575 L1442.9,573.5 L1444.2,572 L1445.5,570.5 L1446.9,569 L1448.2,567.5 L1449.5,566 L1450.8,564.5 L1452.1,563 L1453.4,561.4 L1454.7,559.9 L1456.1,558.4 L1457.4,556.9 L1458.7,555.4 L1460,553.9 L1461.3,552.4 L1462.6,550.9 L1463.9,549.4 L1465.2,547.8 L1466.6,546.3 L1467.9,544.8 L1469.2,543.3 L1470.5,541.8 L1471.8,540.3 L1473.1,538.8 L1474.5,537.3 L1475.8,535.8 L1477.1,534.3 L1478.4,532.8 L1479.7,531.3 L1481,529.8 L1482.4,528.3 L1483.7,526.8 L1485,525.3 L1486.3,523.8 L1487.6,522.3 L1489,520.8 L1490.3,519.3 L1491.6,517.8 L1492.9,516.3 L1494.3,514.8 L1495.6,513.3 L1496.9,511.8 L1498.3,510.3 L1499.6,508.8 L1500.9,507.3 L1502.3,505.8 L1503.6,504.4 L1505,502.9 L1506.3,501.4 L1507.6,499.9 L1509,498.5 L1510.3,497 L1511.7,495.5 L1513,494 L1514.4,492.6 L1515.7,491.1 L1517.1,489.6 L1518.4,488.2 L1519.8,486.7 L1521.2,485.3 L1522.5,483.8 L1523.9,482.3 L1525.2,480.9 L1526.6,479.4 L1528,478 L1529.4,476.6 L1530.7,475.1 L1532.1,473.7 L1533.5,472.2 L1534.9,470.8 L1536.3,469.4 L1537.6,467.9 L1539,466.5 L1540.4,465.1 L1541.8,463.7 L1543.2,462.3 L1544.6,460.8 L1546,459.4 L1547.4,458 L1548.8,456.6 L1550.3,455.2 L1551.7,453.8 L1553.1,452.4 L1554.5,451 L1555.9,449.6 L1557.4,448.2 L1558.8,446.9 L1560.2,445.5 L1561.7,444.1 L1563.1,442.7 L1564.6,441.4 L1566,440 L1573,432 L1583,432" stroke="#00FFFF"/>
<path d="M307,1509 L308.1,1507.4 L309.2,1505.7 L310.3,1504 L311.4,1502.4 L312.5,1500.7 L313.6,1499.1 L314.7,1497.4 L315.8,1495.7 L316.8,1494.1 L317.9,1492.4 L319,1490.7 L320,1489 L321.1,1487.3 L322.2,1485.6 L323.2,1484 L324.3,1482.3 L325.3,1480.6 L326.4,1478.9 L327.4,1477.2 L328.4,1475.5 L329.5,1473.8 L330.5,1472.1 L331.5,1470.4 L332.6,1468.6 L333.6,1466.9 L334.6,1465.2 L335.6,1463.5 L336.6,1461.8 L337.7,1460.1 L338.7,1458.3 L339.7,1456.6 L340.7,1454.9 L341.7,1453.2 L342.7,1451.4 L343.7,1449.7 L344.7,1448 L345.7,1446.2 L346.7,1444.5 L347.7,1442.8 L348.6,1441 L349.6,1439.3 L350.6,1437.5 L351.6,1435.8 L352.6,1434.1 L353.5,1432.3 L354.5,1430.6 L355.5,1428.8 L356.5,1427.1 L357.4,1425.3 L358.4,1423.6 L359.4,1421.8 L360.4,1420.1 L361.3,1418.3 L362.3,1416.5 L363.2,1414.8 L364.2,1413 L365.2,1411.3 L366.1,1409.5 L367.1,1407.8 L368,1406 L369,1404.2 L370,1402.5 L370.9,1400.7 L371.9,1398.9 L372.8,1397.2 L373.8,1395.4 L374.7,1393.7 L375.7,1391.9 L376.6,1390.1 L377.6,1388.4 L378.6,1386.6 L379.5,1384.8 L380.5,1383.1 L381.4,1381.3 L382.4,1379.5 L383.3,1377.8 L384.3,1376 L385.2,1374.2 L386.2,1372.5 L387.1,1370.7 L388.1,1368.9 L389,1367.2 L390,1365.4 L390.9,1363.6 L391.9,1361.9 L392.9,1360.1 L393.8,1358.4 L394.8,1356.6 L395.7,1354.8 L396.7,1353.1 L397.6,1351.3 L398.6,1349.5 L399.6,1347.8 L400.5,1346 L401.5,1344.3 L402.5,1342.5 L403.4,1340.8 L404.4,1339 L405.4,1337.2 L406.3,1335.5 L407.3,1333.7 L408.3,1332 L409.2,1330.2 L410.2,1328.5 L411.2,1326.7 L412.2,1325 L413.2,1323.2 L414.1,1321.5 L415.1,1319.8 L416.1,1318 L417.1,1316.3 L418.1,1314.5 L419.1,1312.8 L420.1,1311.1 L421.1,1309.3 L422.1,1307.6 L423.1,1305.9 L424.1,1304.1 L425.1,1302.4 L426.1,1300.7 L427.1,1298.9 L428.1,1297.2 L429.1,1295.5 L430.1,1293.7 L431.1,1292 L432.1,1290.3 L433.2,1288.6 L434.2,1286.9 L435.2,1285.1 L436.2,1283.4 L437.2,1281.7 L438.3,1280 L439.3,1278.3 L440.3,1276.6 L441.3,1274.8 L442.4,1273.1 L443.4,1271.4 L444.4,1269.7 L445.5,1268 L446.5,1266.3 L447.5,1264.6 L448.6,1262.9 L449.6,1261.2 L450.7,1259.5 L451.7,1257.8 L452.7,1256.1 L453.8,1254.4 L454.8,1252.6 L455.9,1251 L456.9,1249.3 L458,1247.6 L459,1245.9 L460.1,1244.2 L461.2,1242.5 L462.2,1240.8 L463.3,1239.1 L464.3,1237.4 L465.4,1235.7 L466.5,1234 L467.5,1232.3 L468.6,1230.6 L469.7,1228.9 L470.7,1227.3 L471.8,1225.6 L472.9,1223.9 L474,1222.2 L475,1220.5 L476.1,1218.8 L477.2,1217.2 L478.3,1215.5 L479.4,1213.8 L480.4,1212.1 L481.5,1210.4 L482.6,1208.8 L483.7,1207.1 L484.8,1205.4 L485.9,1203.7 L487,1202.1 L488.1,1200.4 L489.2,1198.7 L490.2,1197.1 L491.3,1195.4 L492.4,1193.7 L493.5,1192 L494.6,1190.4 L495.7,1188.7 L496.9,1187 L498,1185.4 L499.1,1183.7 L500.2,1182 L501.3,1180.4 L502.4,1178.7 L503.5,1177.1 L504.6,1175.4 L505.7,1173.7 L506.8,1172.1 L508,1170.4 L509.1,1168.8 L510.2,1167.1 L511.3,1165.5 L512.4,1163.8 L513.6,1162.1 L514.7,1160.5 L515.8,1158.8 L516.9,1157.2 L518.1,1155.5 L519.2,1153.9 L520.3,1152.2 L521.5,1150.6 L522.6,1148.9 L523.7,1147.3 L524.9,1145.6 L526,1144 L527.1,1142.3 L528.3,1140.7 L529.4,1139 L530.6,1137.4 L531.7,1135.8 L532.8,1134.1 L534,1132.5 L535.1,1130.8 L536.3,1129.2 L537.4,1127.5 L538.6,1125.9 L539.7,1124.3 L540.9,1122.6 L542,1121 L543.2,1119.3 L544.3,1117.7 L545.5,1116.1 L546.7,1114.4 L547.8,1112.8 L549,1111.2 L550.1,1109.5 L551.3,1107.9 L552.5,1106.3 L553.6,1104.6 L554.8,1103 L556,1101.4 L557.1,1099.7 L558.3,1098.1 L559.5,1096.5 L560.6,1094.8 L561.8,1093.2 L563,1091.6 L564.2,1090 L565.4,1088.3 L566.5,1086.7 L567.7,1085.1 L568.9,1083.5 L570.1,1081.9 L571.3,1080.2 L572.5,1078.6 L573.7,1077 L574.8,1075.4 L576,1073.8 L577.2,1072.2 L578.4,1070.6 L579.6,1069 L580.8,1067.3 L582,1065.7 L583.2,1064.1 L584.5,1062.5 L585.7,1060.9 L586.9,1059.3 L588.1,1057.7 L589.3,1056.1 L590.5,1054.6 L591.7,1053 L593,1051.4 L594.2,1049.8 L595.4,1048.2 L596.6,1046.6 L597.9,1045 L599.1,1043.4 L600.3,1041.9 L601.6,1040.3 L602.8,1038.7 L604.1,1037.1 L605.3,1035.6 L606.6,1034 L607.8,1032.4 L609.1,1030.9 L610.3,1029.3 L611.6,1027.8 L612.8,1026.2 L614.1,1024.6 L615.4,1023.1 L616.6,1021.5 L617.9,1020 L619.2,1018.4 L620.4,1016.9 L621.7,1015.4 L623,1013.8 L624.3,1012.3 L625.6,1010.8 L626.9,1009.2 L628.2,1007.7 L629.5,1006.2 L630.8,1004.7 L632.1,1003.1 L633.4,1001.6 L634.7,1000.1 L636,998.6 L637.3,997.1 L638.6,995.6 L639.9,994.1 L641.2,992.6 L642.6,991.1 L643.9,989.6 L645.2,988.1 L646.6,986.6 L647.9,985.1 L649.3,983.7 L650.6,982.2 L651.9,980.7 L653.3,979.2 L654.7,977.8 L656,976.3 L657.4,974.9 L658.7,973.4 L660.1,971.9 L661.5,970.5 L662.9,969 L664.2,967.6 L665.6,966.2 L667,964.7 L668.4,963.3 L669.8,961.9 L671.2,960.4 L672.6,959 L674,957.6 L675.4,956.2 L676.8,954.8 L678.2,953.4 L679.7,952 L681.1,950.6 L682.5,949.2 L683.9,947.8 L685.4,946.4 L686.8,945 L688.3,943.6 L689.7,942.3 L691.2,940.9 L692.6,939.5 L694.1,938.2 L695.5,936.8 L697,935.5 L698.5,934.1 L700,932.8 L701.4,931.4 L702.9,930.1 L704.4,928.8 L705.9,927.4 L707.4,926.1 L708.9,924.8 L710.4,923.5 L711.9,922.2 L713.4,920.9 L715,919.6 L716.5,918.3 L718,917 L719.6,915.7 L721.1,914.4 L722.6,913.1 L724.2,911.9 L725.7,910.6 L727.3,909.3 L728.9,908.1 L730.4,906.8 L732,905.6 L733.6,904.3 L735.1,903.1 L736.7,901.9 L738.3,900.6 L739.9,899.4 L741.5,898.2 L743.1,897 L744.7,895.8 L746.3,894.6 L748,893.4 L749.6,892.2 L751.2,891 L752.8,889.8 L754.5,888.7 L756.1,887.5 L757.8,886.3 L759.4,885.2 L761.1,884 L762.7,882.9 L764.4,881.7 L766.1,880.6 L767.7,879.5 L769.4,878.4 L771.1,877.3 L772.8,876.2 L774.5,875.1 L776.2,874 L777.9,872.9 L779.6,871.8 L781.3,870.7 L783,869.7 L784.7,868.6 L786.4,867.6 L788.1,866.5 L789.9,865.5 L791.6,864.5 L793.3,863.4 L795.1,862.4 L796.8,861.4 L798.6,860.4 L800.3,859.4 L802.1,858.4 L803.8,857.5 L805.6,856.5 L807.4,855.5 L809.1,854.6 L810.9,853.6 L812.7,852.7 L814.5,851.8 L816.2,850.9 L818,849.9 L819.8,849 L821.6,848.1 L823.4,847.3 L825.2,846.4 L827,845.5 L828.8,844.7 L830.6,843.8 L832.5,843 L834.3,842.1 L836.1,841.3 L837.9,840.5 L839.8,839.7 L841.6,838.9 L843.4,838.1 L845.3,837.3 L847.1,836.5 L849,835.8 L850.8,835 L852.7,834.3 L854.5,833.6 L856.4,832.8 L858.2,832.1 L860.1,831.4 L862,830.7 L863.8,830 L865.7,829.4 L867.6,828.7 L869.5,828 L871.3,827.4 L873.2,826.8 L875.1,826.2 L877,825.5 L878.9,824.9 L880.8,824.3 L882.7,823.8 L884.6,823.2 L886.5,822.6 L888.4,822.1 L890.3,821.6 L892.2,821 L894.1,820.5 L896,820 L898,819.5 L899.9,819 L901.8,818.6 L903.7,818.1 L905.7,817.7 L907.6,817.2 L909.5,816.8 L911.5,816.4 L913.4,816 L915.3,815.6 L917.3,815.2 L919.2,814.8 L921.2,814.4 L923.1,814.1 L925.1,813.7 L927,813.4 L929,813.1 L930.9,812.8 L932.9,812.4 L934.9,812.1 L936.8,811.8 L938.8,811.6 L940.8,811.3 L942.7,811 L944.7,810.8 L946.7,810.5 L948.6,810.3 L950.6,810 L952.6,809.8 L954.6,809.6 L956.6,809.3 L958.5,809.1 L960.5,808.9 L962.5,808.7 L964.5,808.5 L966.5,808.3 L968.5,808.2 L970.5,808 L972.5,807.8 L974.4,807.7 L976.4,807.5 L978.4,807.3 L980.4,807.2 L982.4,807.1 L984.4,806.9 L986.4,806.8 L988.4,806.7 L990.4,806.5 L992.4,806.4 L994.4,806.3 L996.5,806.2 L998.5,806.1 L1000.5,806 L1002.5,805.9 L1004.5,805.8 L1006.5,805.7 L1008.5,805.6 L1010.5,805.5 L1012.5,805.4 L1014.6,805.3 L1016.6,805.2 L1018.6,805.2 L1020.6,805.1 L1022.6,805 L1024.6,804.9 L1026.6,804.9 L1028.7,804.8 L1030.7,804.7 L1032.7,804.6 L1034.7,804.6 L1036.7,804.5 L1038.8,804.4 L1040.8,804.4 L1042.8,804.3 L1044.8,804.2 L1046.8,804.2 L1048.9,804.1 L1050.9,804 L1052.9,804 L1054.9,803.9 L1057,803.8 L1059,803.8 L1061,803.7 L1063,803.6 L1065,803.5 L1067.1,803.5 L1069.1,803.4 L1071.1,803.3 L1073.1,803.2 L1075.2,803.1 L1077.2,803.1 L1079.2,803 L1081.2,802.9 L1083.2,802.8 L1085.3,802.7 L1087.3,802.6 L1089.3,802.5 L1091.3,802.4 L1093.3,802.3 L1095.4,802.2 L1097.4,802 L1099.4,801.9 L1101.4,801.8 L1103.4,801.7 L1105.4,801.5 L1107.5,801.4 L1109.5,801.2 L1111.5,801.1 L1113.5,800.9 L1115.5,800.8 L1117.5,800.6 L1119.5,800.4 L1121.5,800.3 L1123.5,800.1 L1125.6,799.9 L1127.6,799.7 L1129.6,799.5 L1131.6,799.3 L1133.6,799.1 L1135.6,798.8 L1137.6,798.6 L1139.6,798.4 L1141.6,798.1 L1143.6,797.9 L1145.6,797.6 L1147.6,797.4 L1149.6,797.1 L1151.6,796.8 L1153.5,796.5 L1155.5,796.2 L1157.5,795.9 L1159.5,795.6 L1161.5,795.3 L1163.5,795 L1165.5,794.6 L1167.4,794.3 L1169.4,793.9 L1171.4,793.6 L1173.4,793.2 L1175.3,792.8 L1177.3,792.5 L1179.3,792.1 L1181.2,791.7 L1183.2,791.3 L1185.1,790.8 L1187.1,790.4 L1189,790 L1191,789.5 L1192.9,789.1 L1194.9,788.6 L1196.8,788.2 L1198.8,787.7 L1200.7,787.2 L1202.6,786.7 L1204.5,786.2 L1206.5,785.7 L1208.4,785.2 L1210.3,784.7 L1212.2,784.1 L1214.1,783.6 L1216,783 L1218,782.5 L1219.9,781.9 L1221.7,781.3 L1223.6,780.7 L1225.5,780.1 L1227.4,779.5 L1229.3,778.9 L1231.2,778.3 L1233,777.6 L1234.9,777 L1236.8,776.3 L1238.6,775.7 L1240.5,775 L1242.3,774.3 L1244.2,773.6 L1246,772.9 L1247.9,772.2 L1249.7,771.5 L1251.5,770.8 L1253.4,770 L1255.2,769.3 L1257,768.5 L1258.8,767.7 L1260.6,767 L1262.4,766.2 L1264.2,765.4 L1266,764.6 L1267.8,763.7 L1269.5,762.9 L1271.3,762.1 L1273.1,761.2 L1274.8,760.4 L1276.6,759.5 L1278.3,758.6 L1280.1,757.7 L1281.8,756.8 L1283.5,755.9 L1285.3,755 L1287,754.1 L1288.7,753.1 L1290.4,752.2 L1292.1,751.2 L1293.8,750.2 L1295.5,749.2 L1297.2,748.2 L1298.8,747.2 L1300.5,746.2 L1302.2,745.2 L1303.8,744.1 L1305.5,743.1 L1307.1,742 L1308.8,740.9 L1310.4,739.9 L1312,738.8 L1313.6,737.7 L1315.2,736.5 L1316.8,735.4 L1318.4,734.3 L1320,733.1 L1321.6,732 L1323.1,730.8 L1324.7,729.6 L1326.3,728.4 L1327.8,727.2 L1329.4,726 L1330.9,724.8 L1332.4,723.5 L1334,722.3 L1335.5,721 L1337,719.8 L1338.5,718.5 L1340,717.2 L1341.5,715.9 L1343,714.6 L1344.4,713.3 L1345.9,712 L1347.4,710.6 L1348.8,709.3 L1350.3,708 L1351.7,706.6 L1353.1,705.2 L1354.6,703.9 L1356,702.5 L1357.4,701.1 L1358.8,699.7 L1360.2,698.3 L1361.6,696.8 L1363,695.4 L1364.4,694 L1365.8,692.5 L1367.2,691.1 L1368.5,689.6 L1369.9,688.2 L1371.2,686.7 L1372.6,685.2 L1373.9,683.7 L1375.2,682.2 L1376.6,680.7 L1377.9,679.2 L1379.2,677.7 L1380.5,676.1 L1381.8,674.6 L1383.1,673.1 L1384.4,671.5 L1385.7,669.9 L1387,668.4 L1388.2,666.8 L1389.5,665.2 L1390.8,663.6 L1392,662.1 L1393.3,660.5 L1394.5,658.9 L1395.7,657.2 L1397,655.6 L1398.2,654 L1399.4,652.4 L1400.6,650.8 L1401.8,649.1 L1403,647.5 L1404.2,645.8 L1405.4,644.2 L1406.6,642.5 L1407.7,640.8 L1408.9,639.2 L1410.1,637.5 L1411.2,635.8 L1412.4,634.1 L1413.5,632.4 L1414.7,630.7 L1415.8,629 L1416.9,627.3 L1418,625.6 L1419.2,623.9 L1420.3,622.2 L1421.4,620.4 L1422.5,618.7 L1423.6,617 L1424.7,615.2 L1425.7,613.5 L1426.8,611.7 L1427.9,610 L1429,608.2 L1430,606.5 L1431.1,604.7 L1432.1,603 L1433.2,601.2 L1434.2,599.4 L1435.2,597.6 L1436.3,595.9 L1437.3,594.1 L1438.3,592.3 L1439.3,590.5 L1440.3,588.7 L1441.3,586.9 L1442.3,585.1 L1443.3,583.3 L1444.3,581.5 L1445.3,579.7 L1446.2,577.9 L1447.2,576.1 L1448.2,574.3 L1449.1,572.5 L1450.1,570.7 L1451,568.9 L1452,567 L1452.9,565.2 L1453.8,563.4 L1454.8,561.6 L1455.7,559.8 L1456.6,557.9 L1457.5,556.1 L1458.4,554.3 L1459.3,552.4 L1460.2,550.6 L1461.1,548.8 L1462,546.9 L1462.9,545.1 L1463.8,543.3 L1464.6,541.4 L1465.5,539.6 L1466.4,537.8 L1467.2,535.9 L1468.1,534.1 L1468.9,532.3 L1469.8,530.4 L1470.6,528.6 L1471.4,526.8 L1472.3,524.9 L1473.1,523.1 L1473.9,521.2 L1474.7,519.4 L1475.5,517.6 L1476.3,515.7 L1477.1,513.9 L1477.9,512.1 L1478.7,510.2 L1479.5,508.4 L1480.3,506.6 L1481.1,504.7 L1481.8,502.9 L1482.6,501.1 L1483.4,499.3 L1484.1,497.4 L1484.9,495.6 L1485.6,493.8 L1486.4,492 L1487.1,490.1 L1487.9,488.3 L1488.6,486.5 L1489.3,484.7 L1490.1,482.9 L1490.8,481.1 L1491.5,479.3 L1492.2,477.5 L1492.9,475.7 L1493.6,473.9 L1494.3,472.1 L1495,470.3 L1495.7,468.5 L1496.4,466.7 L1497.1,464.9 L1497.7,463.1 L1498.4,461.3 L1499.1,459.6 L1499.7,457.8 L1500.4,456 L1508.5,444.5" stroke="#FF00FF"/>
<path d="M318.3,1477 L318.8,1475.1 L319.3,1473.1 L319.9,1471.2 L320.4,1469.3 L320.9,1467.4 L321.5,1465.5 L322,1463.5 L322.6,1461.6 L323.1,1459.7 L323.7,1457.8 L324.2,1455.9 L324.8,1454 L325.3,1452 L325.9,1450.1 L326.5,1448.2 L327,1446.3 L327.6,1444.4 L328.2,1442.5 L328.8,1440.6 L329.4,1438.7 L329.9,1436.8 L330.5,1434.9 L331.1,1432.9 L331.7,1431 L332.3,1429.1 L332.9,1427.2 L333.5,1425.3 L334.1,1423.4 L334.7,1421.5 L335.3,1419.6 L335.9,1417.7 L336.6,1415.8 L337.2,1413.9 L337.8,1412 L338.4,1410.1 L339.1,1408.2 L339.7,1406.3 L340.3,1404.4 L341,1402.6 L341.6,1400.7 L342.2,1398.8 L342.9,1396.9 L343.5,1395 L344.2,1393.1 L344.8,1391.2 L345.5,1389.3 L346.1,1387.4 L346.8,1385.5 L347.4,1383.6 L348.1,1381.7 L348.7,1379.9 L349.4,1378 L350.1,1376.1 L350.7,1374.2 L351.4,1372.3 L352.1,1370.4 L352.8,1368.5 L353.4,1366.6 L354.1,1364.8 L354.8,1362.9 L355.5,1361 L356.2,1359.1 L356.9,1357.2 L357.5,1355.3 L358.2,1353.4 L358.9,1351.6 L359.6,1349.7 L360.3,1347.8 L361,1345.9 L361.7,1344 L362.4,1342.1 L363.1,1340.2 L363.8,1338.4 L364.5,1336.5 L365.2,1334.6 L365.9,1332.7 L366.7,1330.8 L367.4,1328.9 L368.1,1327.1 L368.8,1325.2 L369.5,1323.3 L370.2,1321.4 L371,1319.5 L371.7,1317.6 L372.4,1315.8 L373.1,1313.9 L373.9,1312 L374.6,1310.1 L375.3,1308.2 L376.1,1306.4 L376.8,1304.5 L377.5,1302.6 L378.3,1300.7 L379,1298.9 L379.8,1297 L380.5,1295.1 L381.3,1293.2 L382,1291.4 L382.8,1289.5 L383.5,1287.6 L384.3,1285.7 L385.1,1283.9 L385.8,1282 L386.6,1280.2 L387.4,1278.3 L388.2,1276.4 L389,1274.6 L389.8,1272.7 L390.5,1270.9 L391.3,1269 L392.1,1267.2 L393,1265.3 L393.8,1263.5 L394.6,1261.6 L395.4,1259.8 L396.2,1257.9 L397,1256.1 L397.9,1254.3 L398.7,1252.4 L399.5,1250.6 L400.4,1248.8 L401.2,1246.9 L402.1,1245.1 L403,1243.3 L403.8,1241.5 L404.7,1239.7 L405.6,1237.9 L406.5,1236.1 L407.3,1234.2 L408.2,1232.4 L409.1,1230.7 L410,1228.9 L410.9,1227.1 L411.9,1225.3 L412.8,1223.5 L413.7,1221.7 L414.6,1219.9 L415.6,1218.2 L416.5,1216.4 L417.5,1214.6 L418.4,1212.9 L419.4,1211.1 L420.4,1209.4 L421.3,1207.6 L422.3,1205.9 L423.3,1204.1 L424.3,1202.4 L425.3,1200.7 L426.3,1198.9 L427.4,1197.2 L428.4,1195.5 L429.4,1193.8 L430.5,1192.1 L431.5,1190.4 L432.6,1188.7 L433.6,1187 L434.7,1185.3 L435.8,1183.6 L436.9,1181.9 L438,1180.3 L439.1,1178.6 L440.2,1176.9 L441.3,1175.3 L442.4,1173.6 L443.6,1172 L444.7,1170.3 L445.9,1168.7 L447,1167.1 L448.2,1165.4 L449.4,1163.8 L450.5,1162.2 L451.7,1160.6 L452.9,1159 L454.1,1157.4 L455.3,1155.8 L456.6,1154.2 L457.8,1152.6 L459,1151 L460.3,1149.5 L461.5,1147.9 L462.8,1146.4 L464,1144.8 L465.3,1143.3 L466.6,1141.7 L467.9,1140.2 L469.2,1138.7 L470.5,1137.1 L471.8,1135.6 L473.1,1134.1 L474.4,1132.6 L475.7,1131.1 L477.1,1129.6 L478.4,1128.1 L479.7,1126.7 L481.1,1125.2 L482.4,1123.7 L483.8,1122.3 L485.2,1120.8 L486.6,1119.4 L487.9,1117.9 L489.3,1116.5 L490.7,1115.1 L492.1,1113.6 L493.5,1112.2 L495,1110.8 L496.4,1109.4 L497.8,1108 L499.2,1106.6 L500.7,1105.2 L502.1,1103.9 L503.6,1102.5 L505,1101.1 L506.5,1099.8 L508,1098.4 L509.5,1097.1 L510.9,1095.8 L512.4,1094.4 L513.9,1093.1 L515.4,1091.8 L516.9,1090.5 L518.4,1089.2 L519.9,1087.9 L521.5,1086.6 L523,1085.3 L524.5,1084 L526,1082.8 L527.6,1081.5 L529.1,1080.3 L530.7,1079 L532.2,1077.8 L533.8,1076.6 L535.4,1075.3 L536.9,1074.1 L538.5,1072.9 L540.1,1071.7 L541.7,1070.5 L543.3,1069.4 L544.9,1068.2 L546.5,1067 L548.1,1065.8 L549.7,1064.7 L551.3,1063.5 L552.9,1062.4 L554.5,1061.3 L556.1,1060.1 L557.8,1059 L559.4,1057.9 L561.1,1056.8 L562.7,1055.7 L564.3,1054.6 L566,1053.5 L567.7,1052.4 L569.3,1051.3 L571,1050.3 L572.7,1049.2 L574.3,1048.1 L576,1047.1 L577.7,1046 L579.4,1045 L581.1,1044 L582.8,1042.9 L584.4,1041.9 L586.1,1040.9 L587.9,1039.9 L589.6,1038.9 L591.3,1037.9 L593,1036.9 L594.7,1035.9 L596.4,1034.9 L598.2,1033.9 L599.9,1033 L601.6,1032 L603.4,1031 L605.1,1030.1 L606.8,1029.1 L608.6,1028.2 L610.3,1027.2 L612.1,1026.3 L613.8,1025.4 L615.6,1024.4 L617.4,1023.5 L619.1,1022.6 L620.9,1021.7 L622.7,1020.8 L624.4,1019.9 L626.2,1019 L628,1018.1 L629.8,1017.2 L631.6,1016.3 L633.4,1015.4 L635.1,1014.5 L636.9,1013.7 L638.7,1012.8 L640.5,1011.9 L642.3,1011.1 L644.1,1010.2 L646,1009.3 L647.8,1008.5 L649.6,1007.6 L651.4,1006.8 L653.2,1006 L655,1005.1 L656.8,1004.3 L658.7,1003.5 L660.5,1002.6 L662.3,1001.8 L664.1,1001 L666,1000.2 L667.8,999.4 L669.6,998.5 L671.5,997.7 L673.3,996.9 L675.2,996.1 L677,995.3 L678.9,994.5 L680.7,993.7 L682.5,992.9 L684.4,992.2 L686.3,991.4 L688.1,990.6 L690,989.8 L691.8,989 L693.7,988.2 L695.5,987.5 L697.4,986.7 L699.3,985.9 L701.1,985.2 L703,984.4 L704.9,983.6 L706.7,982.9 L708.6,982.1 L710.5,981.3 L712.3,980.6 L714.2,979.8 L716.1,979.1 L717.9,978.3 L719.8,977.6 L721.7,976.8 L723.6,976.1 L725.5,975.3 L727.3,974.6 L729.2,973.8 L731.1,973.1 L733,972.3 L734.9,971.6 L736.7,970.9 L738.6,970.1 L740.5,969.4 L742.4,968.6 L744.3,967.9 L746.2,967.2 L748,966.4 L749.9,965.7 L751.8,965 L753.7,964.2 L755.6,963.5 L757.5,962.8 L759.4,962 L761.2,961.3 L763.1,960.6 L765,959.8 L766.9,959.1 L768.8,958.4 L770.7,957.6 L772.6,956.9 L774.5,956.2 L776.3,955.4 L778.2,954.7 L780.1,954 L782,953.2 L783.9,952.5 L785.8,951.8 L787.7,951 L789.5,950.3 L791.4,949.6 L793.3,948.8 L795.2,948.1 L797.1,947.3 L799,946.6 L800.8,945.9 L802.7,945.1 L804.6,944.4 L806.5,943.6 L808.4,942.9 L810.2,942.1 L812.1,941.4 L814,940.6 L815.9,939.9 L817.7,939.1 L819.6,938.4 L821.5,937.6 L823.4,936.9 L825.2,936.1 L827.1,935.3 L829,934.6 L830.8,933.8 L832.7,933 L834.5,932.3 L836.4,931.5 L838.3,930.7 L840.1,929.9 L842,929.2 L843.8,928.4 L845.7,927.6 L847.5,926.8 L849.4,926 L851.2,925.2 L853.1,924.5 L854.9,923.7 L856.8,922.9 L858.6,922.1 L860.5,921.3 L862.3,920.5 L864.1,919.6 L866,918.8 L867.8,918 L869.6,917.2 L871.5,916.4 L873.3,915.6 L875.1,914.7 L876.9,913.9 L878.8,913.1 L880.6,912.2 L882.4,911.4 L884.2,910.6 L886,909.7 L887.9,908.9 L889.7,908 L891.5,907.2 L893.3,906.3 L895.1,905.5 L896.9,904.6 L898.7,903.8 L900.5,902.9 L902.3,902 L904.1,901.2 L905.9,900.3 L907.7,899.4 L909.5,898.6 L911.3,897.7 L913.1,896.8 L914.9,896 L916.7,895.1 L918.5,894.2 L920.2,893.3 L922,892.4 L923.8,891.5 L925.6,890.6 L927.4,889.8 L929.2,888.9 L931,888 L932.7,887.1 L934.5,886.2 L936.3,885.3 L938.1,884.4 L939.8,883.5 L941.6,882.6 L943.4,881.7 L945.2,880.8 L946.9,879.9 L948.7,879 L950.5,878 L952.3,877.1 L954,876.2 L955.8,875.3 L957.6,874.4 L959.3,873.5 L961.1,872.6 L962.9,871.6 L964.6,870.7 L966.4,869.8 L968.2,868.9 L969.9,867.9 L971.7,867 L973.5,866.1 L975.2,865.2 L977,864.2 L978.7,863.3 L980.5,862.4 L982.3,861.5 L984,860.5 L985.8,859.6 L987.5,858.7 L989.3,857.7 L991.1,856.8 L992.8,855.9 L994.6,854.9 L996.3,854 L998.1,853 L999.8,852.1 L1001.6,851.2 L1003.4,850.2 L1005.1,849.3 L1006.9,848.4 L1008.6,847.4 L1010.4,846.5 L1012.1,845.5 L1013.9,844.6 L1015.6,843.7 L1017.4,842.7 L1019.2,841.8 L1020.9,840.8 L1022.7,839.9 L1024.4,839 L1026.2,838 L1027.9,837.1 L1029.7,836.1 L1031.4,835.2 L1033.2,834.2 L1035,833.3 L1036.7,832.4 L1038.5,831.4 L1040.2,830.5 L1042,829.5 L1043.8,828.6 L1045.5,827.7 L1047.3,826.7 L1049,825.8 L1050.8,824.8 L1052.6,823.9 L1054.3,823 L1056.1,822 L1057.8,821.1 L1059.6,820.1 L1061.4,819.2 L1063.1,818.3 L1064.9,817.3 L1066.7,816.4 L1068.4,815.5 L1070.2,814.5 L1072,813.6 L1073.7,812.7 L1075.5,811.7 L1077.3,810.8 L1079,809.9 L1080.8,809 L1082.6,808 L1084.3,807.1 L1086.1,806.2 L1087.9,805.2 L1089.7,804.3 L1091.4,803.4 L1093.2,802.5 L1095,801.6 L1096.8,800.6 L1098.6,799.7 L1100.3,798.8 L1102.1,797.9 L1103.9,797 L1105.7,796.1 L1107.5,795.1 L1109.3,794.2 L1111,793.3 L1112.8,792.4 L1114.6,791.5 L1116.4,790.6 L1118.2,789.7 L1120,788.8 L1121.8,787.9 L1123.6,787 L1125.4,786.1 L1127.2,785.2 L1129,784.3 L1130.8,783.4 L1132.5,782.5 L1134.3,781.6 L1136.1,780.7 L1137.9,779.7 L1139.7,778.8 L1141.5,777.9 L1143.3,777 L1145.1,776.1 L1146.9,775.2 L1148.7,774.3 L1150.5,773.4 L1152.3,772.5 L1154.1,771.6 L1155.9,770.7 L1157.7,769.8 L1159.5,768.9 L1161.3,768 L1163.1,767.1 L1164.9,766.2 L1166.7,765.3 L1168.5,764.4 L1170.3,763.5 L1172.1,762.6 L1173.9,761.7 L1175.7,760.8 L1177.5,759.9 L1179.3,759 L1181.1,758.1 L1182.9,757.2 L1184.7,756.2 L1186.4,755.3 L1188.2,754.4 L1190,753.5 L1191.8,752.6 L1193.6,751.7 L1195.4,750.8 L1197.2,749.8 L1199,748.9 L1200.8,748 L1202.6,747.1 L1204.3,746.1 L1206.1,745.2 L1207.9,744.3 L1209.7,743.3 L1211.5,742.4 L1213.3,741.5 L1215,740.5 L1216.8,739.6 L1218.6,738.7 L1220.4,737.7 L1222.1,736.8 L1223.9,735.8 L1225.7,734.9 L1227.5,733.9 L1229.2,733 L1231,732 L1232.8,731.1 L1234.5,730.1 L1236.3,729.2 L1238.1,728.2 L1239.8,727.2 L1241.6,726.3 L1243.3,725.3 L1245.1,724.3 L1246.8,723.3 L1248.6,722.4 L1250.3,721.4 L1252.1,720.4 L1253.8,719.4 L1255.6,718.4 L1257.3,717.4 L1259.1,716.4 L1260.8,715.4 L1262.5,714.4 L1264.3,713.4 L1266,712.4 L1267.7,711.4 L1269.5,710.4 L1271.2,709.4 L1272.9,708.3 L1274.6,707.3 L1276.4,706.3 L1278.1,705.2 L1279.8,704.2 L1281.5,703.2 L1283.2,702.1 L1284.9,701.1 L1286.6,700 L1288.3,699 L1290,697.9 L1291.7,696.8 L1293.4,695.8 L1295.1,694.7 L1296.8,693.6 L1298.5,692.5 L1300.2,691.5 L1301.8,690.4 L1303.5,689.3 L1305.2,688.2 L1306.9,687.1 L1308.5,686 L1310.2,684.9 L1311.9,683.8 L1313.5,682.6 L1315.2,681.5 L1316.8,680.4 L1318.5,679.3 L1320.1,678.1 L1321.8,677 L1323.4,675.8 L1325,674.7 L1326.7,673.5 L1328.3,672.4 L1329.9,671.2 L1331.6,670.1 L1333.2,668.9 L1334.8,667.7 L1336.4,666.5 L1338,665.4 L1339.6,664.2 L1341.2,663 L1342.8,661.8 L1344.4,660.6 L1346,659.4 L1347.6,658.2 L1349.2,656.9 L1350.8,655.7 L1352.4,654.5 L1353.9,653.3 L1355.5,652 L1357.1,650.8 L1358.7,649.6 L1360.2,648.3 L1361.8,647.1 L1363.3,645.8 L1364.9,644.6 L1366.4,643.3 L1368,642 L1369.5,640.7 L1371,639.5 L1372.6,638.2 L1374.1,636.9 L1375.6,635.6 L1377.1,634.3 L1378.6,633 L1380.1,631.7 L1381.7,630.4 L1383.2,629.1 L1384.7,627.8 L1386.1,626.4 L1387.6,625.1 L1389.1,623.8 L1390.6,622.4 L1392.1,621.1 L1393.5,619.7 L1395,618.4 L1396.5,617 L1397.9,615.7 L1399.4,614.3 L1400.8,612.9 L1402.3,611.5 L1403.7,610.2 L1405.2,608.8 L1406.6,607.4 L1408,606 L1409.4,604.6 L1410.9,603.2 L1412.3,601.8 L1413.7,600.4 L1415.1,598.9 L1416.5,597.5 L1417.9,596.1 L1419.3,594.6 L1420.6,593.2 L1422,591.8 L1423.4,590.3 L1424.8,588.9 L1426.1,587.4 L1427.5,585.9 L1428.8,584.5 L1430.2,583 L1431.5,581.5 L1432.9,580 L1434.2,578.5 L1435.5,577 L1436.9,575.5 L1438.2,574 L1439.5,572.5 L1440.8,571 L1442.1,569.5 L1443.4,568 L1444.7,566.4 L1446,564.9 L1447.3,563.4 L1448.5,561.8 L1449.8,560.3 L1451.1,558.7 L1452.4,557.2 L1453.6,555.6 L1454.9,554 L1456.1,552.5 L1457.4,550.9 L1458.6,549.3 L1459.8,547.7 L1461.1,546.2 L1462.3,544.6 L1463.5,543 L1464.7,541.4 L1465.9,539.8 L1467.2,538.2 L1468.4,536.6 L1469.6,535 L1470.7,533.3 L1471.9,531.7 L1473.1,530.1 L1474.3,528.5 L1475.5,526.9 L1476.7,525.2 L1477.8,523.6 L1479,522 L1480.1,520.3 L1481.3,518.7 L1482.4,517 L1483.6,515.4 L1484.7,513.7 L1485.9,512.1 L1487,510.4 L1488.1,508.8 L1489.3,507.1 L1490.4,505.4 L1491.5,503.8 L1492.6,502.1 L1493.7,500.4 L1494.8,498.8 L1495.9,497.1 L1497,495.4 L1498.1,493.7 L1499.2,492 L1500.3,490.4 L1501.4,488.7 L1502.4,487 L1503.5,485.3 L1504.6,483.6 L1505.6,481.9 L1506.7,480.2 L1507.8,478.5 L1508.8,476.8 L1509.9,475.1 L1510.9,473.4 L1512,471.7 L1513,470 L1520,458 L1530,456.5" stroke="#FF8000"/>
<path d="M292.5,1458 L292.5,1443 L293.5,1441.3 L294.4,1439.6 L295.4,1437.8 L296.3,1436.1 L297.2,1434.4 L298.2,1432.7 L299.1,1431 L300.1,1429.2 L301,1427.5 L302,1425.8 L302.9,1424.1 L303.9,1422.3 L304.8,1420.6 L305.7,1418.9 L306.7,1417.1 L307.6,1415.4 L308.6,1413.7 L309.5,1411.9 L310.4,1410.2 L311.4,1408.5 L312.3,1406.7 L313.3,1405 L314.2,1403.3 L315.2,1401.5 L316.1,1399.8 L317,1398 L318,1396.3 L318.9,1394.6 L319.9,1392.8 L320.8,1391.1 L321.8,1389.3 L322.7,1387.6 L323.7,1385.8 L324.6,1384.1 L325.6,1382.3 L326.5,1380.6 L327.5,1378.9 L328.4,1377.1 L329.4,1375.4 L330.3,1373.6 L331.3,1371.9 L332.3,1370.1 L333.2,1368.4 L334.2,1366.6 L335.1,1364.9 L336.1,1363.2 L337.1,1361.4 L338.1,1359.7 L339,1357.9 L340,1356.2 L341,1354.4 L342,1352.7 L342.9,1350.9 L343.9,1349.2 L344.9,1347.5 L345.9,1345.7 L346.9,1344 L347.9,1342.2 L348.9,1340.5 L349.9,1338.8 L350.9,1337 L351.9,1335.3 L352.9,1333.5 L353.9,1331.8 L354.9,1330.1 L355.9,1328.3 L356.9,1326.6 L358,1324.9 L359,1323.1 L360,1321.4 L361,1319.7 L362.1,1317.9 L363.1,1316.2 L364.1,1314.5 L365.2,1312.8 L366.2,1311 L367.3,1309.3 L368.3,1307.6 L369.4,1305.9 L370.5,1304.2 L371.5,1302.4 L372.6,1300.7 L373.7,1299 L374.8,1297.3 L375.8,1295.6 L376.9,1293.9 L378,1292.2 L379.1,1290.5 L380.2,1288.7 L381.3,1287 L382.4,1285.3 L383.5,1283.6 L384.7,1281.9 L385.8,1280.2 L386.9,1278.6 L388,1276.9 L389.2,1275.2 L390.3,1273.5 L391.5,1271.8 L392.6,1270.1 L393.8,1268.4 L394.9,1266.8 L396.1,1265.1 L397.3,1263.4 L398.5,1261.7 L399.6,1260.1 L400.8,1258.4 L402,1256.7 L403.2,1255.1 L404.4,1253.4 L405.6,1251.8 L406.8,1250.1 L408,1248.5 L409.3,1246.8 L410.5,1245.2 L411.7,1243.5 L412.9,1241.9 L414.2,1240.3 L415.4,1238.6 L416.7,1237 L417.9,1235.4 L419.2,1233.8 L420.5,1232.2 L421.7,1230.6 L423,1229 L424.3,1227.4 L425.6,1225.8 L426.8,1224.2 L428.1,1222.6 L429.4,1221 L430.7,1219.4 L432,1217.9 L433.4,1216.3 L434.7,1214.7 L436,1213.2 L437.3,1211.6 L438.7,1210.1 L440,1208.5 L441.3,1207 L442.7,1205.5 L444,1203.9 L445.4,1202.4 L446.7,1200.9 L448.1,1199.4 L449.5,1197.9 L450.9,1196.4 L452.2,1194.9 L453.6,1193.4 L455,1191.9 L456.4,1190.4 L457.8,1189 L459.2,1187.5 L460.6,1186 L462,1184.6 L463.5,1183.2 L464.9,1181.7 L466.3,1180.3 L467.7,1178.9 L469.2,1177.4 L470.6,1176 L472.1,1174.6 L473.5,1173.2 L475,1171.8 L476.4,1170.4 L477.9,1169.1 L479.4,1167.7 L480.9,1166.3 L482.3,1165 L483.8,1163.6 L485.3,1162.3 L486.8,1161 L488.3,1159.6 L489.8,1158.3 L491.3,1157 L492.9,1155.7 L494.4,1154.4 L495.9,1153.1 L497.4,1151.9 L499,1150.6 L500.5,1149.3 L502.1,1148.1 L503.6,1146.8 L505.2,1145.6 L506.7,1144.4 L508.3,1143.1 L509.9,1141.9 L511.5,1140.7 L513,1139.5 L514.6,1138.4 L516.2,1137.2 L517.8,1136 L519.4,1134.9 L521,1133.7 L522.6,1132.6 L524.2,1131.4 L525.9,1130.3 L527.5,1129.2 L529.1,1128.1 L530.8,1127 L532.4,1125.9 L534,1124.9 L535.7,1123.8 L537.3,1122.8 L539,1121.7 L540.7,1120.7 L542.3,1119.7 L544,1118.6 L545.7,1117.6 L547.4,1116.6 L549,1115.6 L550.7,1114.7 L552.4,1113.7 L554.1,1112.7 L555.8,1111.8 L557.5,1110.8 L559.3,1109.9 L561,1109 L562.7,1108 L564.4,1107.1 L566.2,1106.2 L567.9,1105.3 L569.6,1104.4 L571.4,1103.6 L573.1,1102.7 L574.9,1101.8 L576.6,1101 L578.4,1100.1 L580.1,1099.3 L581.9,1098.5 L583.7,1097.7 L585.4,1096.8 L587.2,1096 L589,1095.2 L590.8,1094.5 L592.6,1093.7 L594.4,1092.9 L596.2,1092.1 L598,1091.4 L599.8,1090.6 L601.6,1089.9 L603.4,1089.2 L605.2,1088.4 L607,1087.7 L608.9,1087 L610.7,1086.3 L612.5,1085.6 L614.3,1084.9 L616.2,1084.3 L618,1083.6 L619.9,1082.9 L621.7,1082.3 L623.6,1081.6 L625.4,1081 L627.3,1080.3 L629.1,1079.7 L631,1079.1 L632.8,1078.5 L634.7,1077.9 L636.6,1077.3 L638.5,1076.7 L640.3,1076.1 L642.2,1075.5 L644.1,1075 L646,1074.4 L647.9,1073.8 L649.8,1073.3 L651.7,1072.8 L653.6,1072.2 L655.5,1071.7 L657.4,1071.2 L659.3,1070.7 L661.2,1070.1 L663.1,1069.6 L665,1069.1 L666.9,1068.7 L668.8,1068.2 L670.8,1067.7 L672.7,1067.2 L674.6,1066.8 L676.5,1066.3 L678.5,1065.9 L680.4,1065.4 L682.3,1065 L684.3,1064.5 L686.2,1064.1 L688.1,1063.7 L690.1,1063.3 L692,1062.9 L694,1062.5 L695.9,1062.1 L697.9,1061.7 L699.8,1061.3 L701.8,1060.9 L703.8,1060.6 L705.7,1060.2 L707.7,1059.8 L709.7,1059.5 L711.6,1059.1 L713.6,1058.8 L715.6,1058.4 L717.5,1058.1 L719.5,1057.8 L721.5,1057.5 L723.5,1057.1 L725.4,1056.8 L727.4,1056.5 L729.4,1056.2 L731.4,1055.9 L733.4,1055.6 L735.4,1055.4 L737.4,1055.1 L739.3,1054.8 L741.3,1054.5 L743.3,1054.3 L745.3,1054 L747.3,1053.8 L749.3,1053.5 L751.3,1053.3 L753.3,1053 L755.3,1052.8 L757.3,1052.6 L759.3,1052.3 L761.3,1052.1 L763.3,1051.9 L765.3,1051.7 L767.4,1051.5 L769.4,1051.3 L771.4,1051.1 L773.4,1050.9 L775.4,1050.7 L777.4,1050.5 L779.4,1050.3 L781.4,1050.2 L783.5,1050 L785.5,1049.8 L787.5,1049.7 L789.5,1049.5 L791.5,1049.4 L793.6,1049.2 L795.6,1049.1 L797.6,1048.9 L799.6,1048.8 L801.6,1048.7 L803.7,1048.5 L805.7,1048.4 L807.7,1048.3 L809.7,1048.2 L811.8,1048 L813.8,1047.9 L815.8,1047.8 L817.8,1047.7 L819.9,1047.6 L821.9,1047.5 L823.9,1047.4 L825.9,1047.4 L828,1047.3 L830,1047.2 L832,1047.1 L834,1047 L836.1,1047 L838.1,1046.9 L840.1,1046.8 L842.2,1046.8 L844.2,1046.7 L846.2,1046.7 L848.2,1046.6 L850.3,1046.6 L852.3,1046.5 L854.3,1046.5 L856.3,1046.4 L858.4,1046.4 L860.4,1046.4 L862.4,1046.3 L864.5,1046.3 L866.5,1046.3 L868.5,1046.2 L870.5,1046.2 L872.6,1046.2 L874.6,1046.2 L876.6,1046.2 L878.6,1046.2 L880.7,1046.2 L882.7,1046.2 L884.7,1046.2 L886.8,1046.2 L888.8,1046.2 L890.8,1046.2 L892.8,1046.2 L894.9,1046.2 L896.9,1046.2 L898.9,1046.2 L900.9,1046.2 L903,1046.2 L905,1046.3 L907,1046.3 L909,1046.3 L911.1,1046.3 L913.1,1046.4 L915.1,1046.4 L917.1,1046.4 L919.2,1046.4 L921.2,1046.5 L923.2,1046.5 L925.2,1046.6 L927.3,1046.6 L929.3,1046.6 L931.3,1046.7 L933.3,1046.7 L935.4,1046.8 L937.4,1046.8 L939.4,1046.9 L941.4,1046.9 L943.5,1047 L945.5,1047 L947.5,1047.1 L949.5,1047.1 L951.5,1047.2 L953.6,1047.2 L955.6,1047.3 L957.6,1047.3 L959.6,1047.4 L961.7,1047.5 L963.7,1047.5 L965.7,1047.6 L967.7,1047.6 L969.7,1047.7 L971.8,1047.8 L973.8,1047.8 L975.8,1047.9 L977.8,1048 L979.8,1048 L981.9,1048.1 L983.9,1048.2 L985.9,1048.2 L987.9,1048.3 L989.9,1048.4 L992,1048.4 L994,1048.5 L996,1048.6 L998,1048.6 L1000,1048.7 L1002,1048.8 L1004.1,1048.8 L1006.1,1048.9 L1008.1,1049 L1010.1,1049 L1012.1,1049.1 L1014.1,1049.2 L1016.2,1049.2 L1018.2,1049.3 L1020.2,1049.4 L1022.2,1049.4 L1024.2,1049.5 L1026.2,1049.6 L1028.2,1049.6 L1030.3,1049.7 L1032.3,1049.8 L1034.3,1049.8 L1036.3,1049.9 L1038.3,1050 L1040.3,1050 L1042.3,1050.1 L1044.3,1050.2 L1046.4,1050.2 L1048.4,1050.3 L1050.4,1050.3 L1052.4,1050.4 L1054.4,1050.5 L1056.4,1050.5 L1058.4,1050.6 L1060.4,1050.6 L1062.4,1050.7 L1064.4,1050.7 L1066.4,1050.8 L1068.5,1050.8 L1070.5,1050.9 L1072.5,1050.9 L1074.5,1051 L1076.5,1051 L1078.5,1051 L1080.5,1051.1 L1082.5,1051.1 L1084.5,1051.2 L1086.5,1051.2 L1088.5,1051.2 L1090.5,1051.3 L1092.5,1051.3 L1094.5,1051.3 L1096.5,1051.4 L1098.5,1051.4 L1100.5,1051.4 L1102.5,1051.4 L1104.5,1051.5 L1106.5,1051.5 L1108.5,1051.5 L1110.5,1051.5 L1112.5,1051.5 L1114.5,1051.5 L1116.5,1051.5 L1118.5,1051.5 L1120.5,1051.5 L1122.5,1051.5 L1124.5,1051.5 L1126.5,1051.5 L1128.5,1051.5 L1130.5,1051.5 L1132.5,1051.5 L1134.5,1051.5 L1136.5,1051.5 L1138.5,1051.5 L1140.5,1051.4 L1142.4,1051.4 L1144.4,1051.4 L1146.4,1051.4 L1148.4,1051.3 L1150.4,1051.3 L1152.4,1051.3 L1154.4,1051.2 L1156.4,1051.2 L1158.4,1051.1 L1160.4,1051.1 L1162.3,1051 L1164.3,1051 L1166.3,1050.9 L1168.3,1050.8 L1170.3,1050.8 L1172.3,1050.7 L1174.3,1050.6 L1176.2,1050.6 L1178.2,1050.5 L1180.2,1050.4 L1182.2,1050.3 L1184.2,1050.2 L1186.1,1050.1 L1188.1,1050 L1190.1,1049.9 L1192.1,1049.8 L1194.1,1049.7 L1196,1049.6 L1198,1049.5 L1200,1049.4 L1202,1049.2 L1203.9,1049.1 L1205.9,1049 L1207.9,1048.8 L1209.9,1048.7 L1211.8,1048.6 L1213.8,1048.4 L1215.8,1048.3 L1217.8,1048.1 L1219.7,1047.9 L1221.7,1047.8 L1223.7,1047.6 L1225.6,1047.4 L1227.6,1047.3 L1229.6,1047.1 L1231.5,1046.9 L1233.5,1046.7 L1235.5,1046.5 L1237.4,1046.3 L1239.4,1046.1 L1241.4,1045.9 L1243.3,1045.7 L1245.3,1045.5 L1247.3,1045.2 L1249.2,1045 L1251.2,1044.8 L1253.1,1044.5 L1255.1,1044.3 L1257.1,1044 L1259,1043.8 L1261,1043.5 L1262.9,1043.3 L1264.9,1043 L1266.9,1042.7 L1268.8,1042.4 L1270.8,1042.1 L1272.7,1041.9 L1274.7,1041.6 L1276.6,1041.3 L1278.6,1041 L1280.5,1040.6 L1282.5,1040.3 L1284.4,1040 L1286.4,1039.7 L1288.3,1039.3 L1290.3,1039 L1292.2,1038.7 L1294.2,1038.3 L1296.1,1037.9 L1298.1,1037.6 L1300,1037.2 L1301.9,1036.8 L1303.9,1036.5 L1305.8,1036.1 L1307.8,1035.7 L1309.7,1035.3 L1311.6,1034.9 L1313.6,1034.5 L1315.5,1034.1 L1317.5,1033.6 L1319.4,1033.2 L1321.3,1032.8 L1323.3,1032.4 L1325.2,1031.9 L1327.1,1031.5 L1329.1,1031 L1331,1030.6 L1332.9,1030.1 L1334.8,1029.6 L1336.8,1029.2 L1338.7,1028.7 L1340.6,1028.2 L1342.5,1027.7 L1344.5,1027.2 L1346.4,1026.7 L1348.3,1026.2 L1350.2,1025.7 L1352.2,1025.2 L1354.1,1024.7 L1356,1024.1 L1357.9,1023.6 L1359.8,1023.1 L1361.7,1022.5 L1363.6,1022 L1365.6,1021.4 L1367.5,1020.9 L1369.4,1020.3 L1371.3,1019.7 L1373.2,1019.2 L1375.1,1018.6 L1377,1018 L1378.9,1017.4 L1380.8,1016.8 L1382.7,1016.2 L1384.6,1015.6 L1386.5,1015 L1388.4,1014.4 L1390.3,1013.8 L1392.2,1013.2 L1394.1,1012.5 L1396,1011.9 L1397.9,1011.3 L1399.7,1010.6 L1401.6,1010 L1403.5,1009.3 L1405.4,1008.7 L1407.3,1008 L1409.2,1007.3 L1411,1006.6 L1412.9,1006 L1414.8,1005.3 L1416.7,1004.6 L1418.5,1003.9 L1420.4,1003.2 L1422.3,1002.5 L1424.2,1001.8 L1426,1001.1 L1427.9,1000.4 L1429.8,999.6 L1431.6,998.9 L1433.5,998.2 L1435.3,997.4 L1437.2,996.7 L1439.1,995.9 L1440.9,995.2 L1442.8,994.4 L1444.6,993.7 L1446.5,992.9 L1448.3,992.1 L1450.2,991.4 L1452,990.6 L1453.9,989.8 L1455.7,989 L1457.5,988.2 L1459.4,987.4 L1461.2,986.6 L1463.1,985.8 L1464.9,985 L1466.7,984.2 L1468.6,983.3 L1470.4,982.5 L1472.2,981.7 L1474,980.9 L1475.9,980 L1477.7,979.2 L1479.5,978.3 L1481.3,977.5 L1483.1,976.6 L1484.9,975.7 L1486.8,974.9 L1488.6,974 L1490.4,973.1 L1492.2,972.2 L1494,971.4 L1495.8,970.5 L1497.6,969.6 L1499.4,968.7 L1501.2,967.8 L1503,966.9 L1504.8,965.9 L1506.6,965 L1508.4,964.1 L1510.1,963.2 L1511.9,962.3 L1513.7,961.3 L1515.5,960.4 L1517.3,959.4 L1519,958.5 L1520.8,957.5 L1522.6,956.6 L1524.4,955.6 L1526.1,954.7 L1527.9,953.7 L1529.6,952.7 L1531.4,951.7 L1533.2,950.8 L1534.9,949.8 L1536.7,948.8 L1538.4,947.8 L1540.2,946.8 L1541.9,945.8 L1543.7,944.8 L1545.4,943.8 L1547.2,942.8 L1548.9,941.7 L1550.6,940.7 L1552.4,939.7 L1554.1,938.7 L1555.8,937.6 L1557.6,936.6 L1559.3,935.5 L1561,934.5 L1562.7,933.4 L1564.4,932.4 L1566.2,931.3 L1567.9,930.3 L1569.6,929.2 L1571.3,928.1 L1573,927 L1574.7,926 L1576.4,924.9 L1578.1,923.8 L1579.8,922.7 L1581.5,921.6 L1583.2,920.5 L1584.9,919.4 L1586.6,918.3 L1588.2,917.2 L1589.9,916.1 L1591.6,914.9 L1593.3,913.8 L1594.9,912.7 L1596.6,911.6 L1598.3,910.4 L1600,909.3 L1601.6,908.2 L1603.3,907 L1604.9,905.9 L1606.6,904.7 L1608.2,903.6 L1609.9,902.4 L1611.5,901.2 L1613.2,900.1 L1614.8,898.9 L1616.5,897.7 L1618.1,896.5 L1619.7,895.4 L1621.4,894.2 L1623,893 L1624.6,891.8 L1626.2,890.6 L1627.8,889.4 L1629.5,888.2 L1631.1,887 L1632.7,885.8 L1634.3,884.5 L1635.9,883.3 L1637.5,882.1 L1639.1,880.9 L1640.7,879.7 L1642.3,878.4 L1643.9,877.2 L1645.5,875.9 L1647.1,874.7 L1648.6,873.5 L1650.2,872.2 L1651.8,871 L1653.4,869.7 L1654.9,868.4 L1656.5,867.2 L1658.1,865.9 L1659.6,864.6 L1661.2,863.4 L1662.7,862.1 L1664.3,860.8 L1665.8,859.5 L1667.4,858.2 L1668.9,856.9 L1670.5,855.6 L1672,854.3 L1673.5,853 L1675.1,851.7 L1676.6,850.4 L1678.1,849.1 L1679.6,847.8 L1681.1,846.5 L1682.7,845.2 L1684.2,843.9 L1685.7,842.5 L1687.2,841.2 L1688.7,839.9 L1690.2,838.5 L1691.7,837.2 L1693.2,835.8 L1694.7,834.5 L1696.1,833.2 L1697.6,831.8 L1699.1,830.4 L1700.6,829.1 L1702,827.7 L1703.5,826.4 L1705,825 L1706.4,823.6 L1707.9,822.3 L1709.3,820.9 L1710.8,819.5 L1712.2,818.1 L1713.7,816.7 L1715.1,815.3 L1716.6,813.9 L1718,812.6 L1719.4,811.2 L1720.9,809.8 L1722.3,808.4 L1723.7,806.9 L1725.1,805.5 L1726.5,804.1 L1727.9,802.7 L1729.3,801.3 L1730.7,799.9 L1732.1,798.5 L1733.5,797 L1734.9,795.6 L1736.3,794.2 L1737.7,792.7 L1739.1,791.3 L1740.5,789.9 L1741.8,788.4 L1743.2,787 L1744.6,785.5 L1746,784.1 L1747.3,782.6 L1748.7,781.2 L1750,779.7 L1751.4,778.2 L1752.7,776.8 L1754.1,775.3 L1755.4,773.8 L1756.8,772.4 L1758.1,770.9 L1759.5,769.4 L1760.8,767.9 L1762.1,766.4 L1763.4,765 L1764.8,763.5 L1766.1,762 L1767.4,760.5 L1768.7,759 L1770,757.5 L1771.3,756 L1772.6,754.5 L1773.9,753 L1775.2,751.5 L1776.5,750 L1777.8,748.4 L1779.1,746.9 L1780.4,745.4 L1781.7,743.9 L1783,742.4 L1784.2,740.8 L1785.5,739.3 L1786.8,737.8 L1788.1,736.2 L1789.3,734.7 L1790.6,733.2 L1791.8,731.6 L1793.1,730.1 L1794.4,728.5 L1795.6,727 L1796.9,725.4 L1798.1,723.9 L1799.4,722.3 L1800.6,720.8 L1801.8,719.2 L1803.1,717.7 L1804.3,716.1 L1805.5,714.5 L1806.8,713 L1808,711.4 L1809.2,709.8 L1810.4,708.3 L1811.6,706.7 L1812.9,705.1 L1814.1,703.5 L1815.3,701.9 L1816.5,700.4 L1817.7,698.8 L1818.9,697.2 L1820.1,695.6 L1821.3,694 L1822.5,692.4 L1823.7,690.8 L1824.8,689.2 L1826,687.6 L1827.2,686 L1828.4,684.4 L1829.6,682.8 L1830.7,681.2 L1831.9,679.6 L1833.1,677.9 L1834.3,676.3 L1835.4,674.7 L1836.6,673.1 L1837.7,671.5 L1838.9,669.8 L1840.1,668.2 L1841.2,666.6 L1842.4,665 L1843.5,663.3 L1844.7,661.7 L1845.8,660.1 L1846.9,658.4 L1848.1,656.8 L1849.2,655.1 L1850.3,653.5 L1851.5,651.9 L1852.6,650.2 L1853.7,648.6 L1854.9,646.9 L1856,645.3 L1857.1,643.6 L1858.2,642 L1859.3,640.3 L1860.4,638.6 L1861.6,637 L1862.7,635.3 L1863.8,633.7 L1864.9,632 L1866,630.3 L1867.1,628.7 L1868.2,627 L1869.3,625.3 L1870.4,623.7 L1871.5,622 L1872.5,620.3 L1873.6,618.6 L1874.7,616.9 L1875.8,615.3 L1876.9,613.6 L1878,611.9 L1879,610.2 L1880.1,608.5 L1881.2,606.8 L1882.3,605.1 L1883.3,603.5 L1884.4,601.8 L1885.5,600.1 L1886.5,598.4 L1887.6,596.7 L1888.6,595 L1889.7,593.3 L1890.7,591.6 L1891.8,589.9 L1892.8,588.2 L1893.9,586.5 L1894.9,584.8 L1896,583 L1897,581.3 L1898.1,579.6 L1899.1,577.9 L1900.2,576.2 L1901.2,574.5 L1902.2,572.8 L1903.3,571.1 L1904.3,569.3 L1905.3,567.6 L1906.3,565.9 L1907.4,564.2 L1908.4,562.4 L1909.4,560.7 L1910.4,559 L1911.4,557.3 L1912.5,555.5 L1913.5,553.8 L1914.5,552.1 L1915.5,550.3 L1916.5,548.6 L1917.5,546.9 L1918.5,545.1 L1919.5,543.4 L1920.5,541.7 L1921.5,539.9 L1922.5,538.2 L1923.5,536.5 L1924.5,534.7 L1925.5,533 L1926.5,531.2 L1927.5,529.5 L1928.5,527.7 L1929.5,526 L1930.5,524.2 L1931.5,522.5 L1932.4,520.7 L1933.4,519 L1934.4,517.2 L1935.4,515.5 L1936.4,513.7 L1937.3,512 L1938.3,510.2 L1939.3,508.5 L1940.3,506.7 L1941.2,505 L1942.2,503.2 L1943.2,501.4 L1944.1,499.7 L1945.1,497.9 L1946.1,496.2 L1947,494.4 L1948,492.6 L1949,490.9 L1949.9,489.1 L1950.9,487.3 L1951.8,485.6 L1952.8,483.8 L1953.7,482 L1954.7,480.3 L1955.6,478.5 L1956.6,476.7 L1957.5,475 L1958.5,473.2 L1959.4,471.4 L1960.4,469.6 L1961.3,467.9 L1962.3,466.1 L1963.2,464.3 L1964.2,462.5 L1965.1,460.8 L1966,459 L1967,457.2 L1967.9,455.4 L1968.8,453.7 L1969.8,451.9 L1970.7,450.1 L1980.5,435.1 L1986.5,429.3" stroke="#8000FF"/>
</g>
<rect x="343" y="100" width="500" height="514" fill="#fff" stroke="#000" stroke-width="4"/>
<rect x="346" y="127" width="115" height="13" fill="#800080"/>
<text transform="translate(467,148.5) scale(0.99,1.06)" font-size="46">CLD85.4%_W0%</text>
<rect x="346" y="182.8" width="115" height="13" fill="#808000"/>
<text transform="translate(467,204.3) scale(0.99,1.06)" font-size="46">CLD85.4%_W1.1%</text>
<rect x="346" y="238.6" width="115" height="13" fill="#FF0000"/>
<text transform="translate(467,260.1) scale(0.99,1.06)" font-size="46">CLD85.4%_W1.6%</text>
<rect x="346" y="294.4" width="115" height="13" fill="#00FF00"/>
<text transform="translate(467,315.9) scale(0.99,1.06)" font-size="46">CLD85.4%_W2.1%</text>
<rect x="346" y="350.2" width="115" height="13" fill="#0000FF"/>
<text transform="translate(467,371.7) scale(0.99,1.06)" font-size="46">CLD85.4%_W4.1%</text>
<rect x="346" y="406" width="115" height="13" fill="#00FFFF"/>
<text transform="translate(467,427.5) scale(0.99,1.06)" font-size="46">CLD85.4%_W6%</text>
<rect x="346" y="461.8" width="115" height="13" fill="#FF00FF"/>
<text transform="translate(467,483.3) scale(0.99,1.06)" font-size="46">CLD85.4%_W8%</text>
<rect x="346" y="517.6" width="115" height="13" fill="#FF8000"/>
<text transform="translate(467,539.1) scale(0.99,1.06)" font-size="46">CLD85.4%_W10%</text>
<rect x="346" y="573.4" width="115" height="13" fill="#8000FF"/>
<text transform="translate(467,594.9) scale(0.99,1.06)" font-size="46">CLD85.4%_W12%</text>
<text transform="translate(1181,1704) scale(1,1.045)" font-size="79" text-anchor="middle">Engineering Strain</text>
<text transform="translate(82.5,793) rotate(-90)" font-size="81" text-anchor="middle">Engineering Stress(GPa)</text>
<text x="1777" y="215.8" font-size="80" text-anchor="middle">T = 300K</text>
<text x="1039" y="1812.5" font-size="80" font-weight="bold" text-anchor="middle">(b)</text>
</svg>
</body></html>
